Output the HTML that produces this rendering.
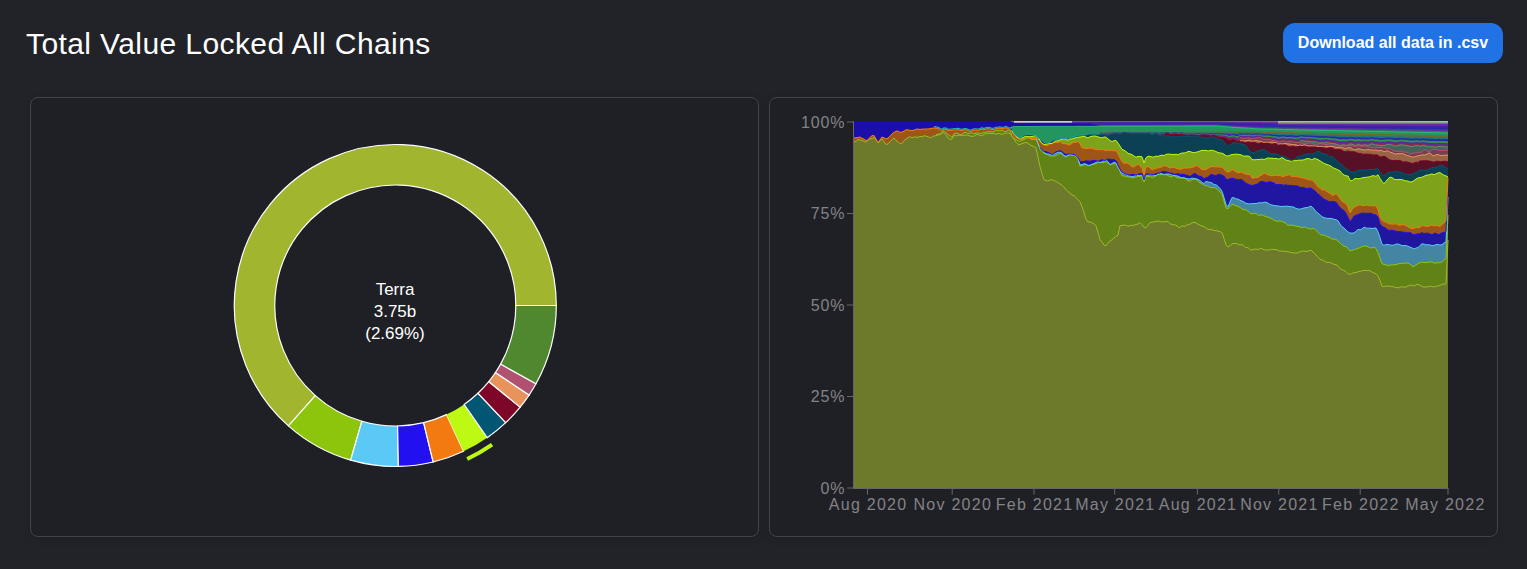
<!DOCTYPE html>
<html><head><meta charset="utf-8"><style>
html,body{margin:0;padding:0;}
body{width:1527px;height:569px;overflow:hidden;background:#222328;font-family:"Liberation Sans",sans-serif;position:relative;}
.title{position:absolute;left:26px;top:27px;font-size:30px;line-height:34px;color:#fff;letter-spacing:0.4px;white-space:nowrap;}
.btn{position:absolute;left:1283px;top:23px;width:220px;height:40px;border-radius:12px;background:#2172e5;color:#fff;font-weight:bold;font-size:16px;line-height:40px;text-align:center;}
.card{position:absolute;top:97px;width:727px;height:438px;border:1px solid #40444f;border-radius:8px;background:#1f2025;box-shadow:0 2px 8px rgba(0,0,0,0.12);}
svg{position:absolute;left:0;top:0;}
</style></head><body>
<div class="title">Total Value Locked All Chains</div>
<div class="btn">Download all data in .csv</div>
<div class="card" style="left:30px"></div>
<div class="card" style="left:769px"></div>
<svg width="1527" height="569" viewBox="0 0 1527 569">
<g><path d="M556.30,305.50A161,161 0 1 0 288.41,425.90L315.30,395.61A120.5,120.5 0 1 1 515.80,305.50Z" fill="#a1b52f" stroke="#fff" stroke-width="1.2"/>
<path d="M288.41,425.90A161,161 0 0 0 350.65,460.19L361.88,421.27A120.5,120.5 0 0 1 315.30,395.61Z" fill="#8dc40c" stroke="#fff" stroke-width="1.2"/>
<path d="M350.65,460.19A161,161 0 0 0 398.39,466.47L397.61,425.98A120.5,120.5 0 0 1 361.88,421.27Z" fill="#5bc9f5" stroke="#fff" stroke-width="1.2"/>
<path d="M398.39,466.47A161,161 0 0 0 433.16,461.99L423.63,422.62A120.5,120.5 0 0 1 397.61,425.98Z" fill="#2210f0" stroke="#fff" stroke-width="1.2"/>
<path d="M433.16,461.99A161,161 0 0 0 463.60,451.30L446.42,414.62A120.5,120.5 0 0 1 423.63,422.62Z" fill="#f27a10" stroke="#fff" stroke-width="1.2"/>
<path d="M463.60,451.30A161,161 0 0 0 487.18,437.71L464.07,404.45A120.5,120.5 0 0 1 446.42,414.62Z" fill="#bdf913"/>
<path d="M468.05,460.81A171.5,171.5 0 0 0 493.18,446.33L490.89,443.04A167.5,167.5 0 0 1 466.35,457.18Z" fill="#bdf913"/>
<path d="M487.18,437.71A161,161 0 0 0 505.72,422.67L477.94,393.20A120.5,120.5 0 0 1 464.07,404.45Z" fill="#005673" stroke="#fff" stroke-width="1.2"/>
<path d="M505.72,422.67A161,161 0 0 0 520.15,407.15L488.75,381.58A120.5,120.5 0 0 1 477.94,393.20Z" fill="#7e0628" stroke="#fff" stroke-width="1.2"/>
<path d="M520.15,407.15A161,161 0 0 0 529.09,395.06L495.43,372.53A120.5,120.5 0 0 1 488.75,381.58Z" fill="#e8925c" stroke="#fff" stroke-width="1.2"/>
<path d="M529.09,395.06A161,161 0 0 0 535.98,383.80L500.59,364.10A120.5,120.5 0 0 1 495.43,372.53Z" fill="#b0526f" stroke="#fff" stroke-width="1.2"/>
<path d="M535.98,383.80A161,161 0 0 0 556.30,305.50L515.80,305.50A120.5,120.5 0 0 1 500.59,364.10Z" fill="#50882f" stroke="#fff" stroke-width="1.2"/></g>
<g fill="#fff" font-size="17" text-anchor="middle" font-family="Liberation Sans, sans-serif">
<text x="395" y="295">Terra</text>
<text x="395" y="316.8">3.75b</text>
<text x="395" y="338.9">(2.69%)</text>
</g>
<g><polygon points="854,121 856,121 858,121 860,121 862,121 864,121 866,121 868,121 870,121 872,121 874,121 876,121 878,121 880,121 882,121 884,121 886,121 888,121 890,121 892,121 894,121 896,121 898,121 900,121 902,121 904,121 906,121 908,121 910,121 912,121 914,121 916,121 918,121 920,121 922,121 924,121 926,121 928,121 930,121 932,121 934,121 936,121 938,121 940,121 942,121 944,121 946,121 948,121 950,121 952,121 954,121 956,121 958,121 960,121 962,121 964,121 966,121 968,121 970,121 972,121 974,121 976,121 978,121 980,121 982,121 984,121 986,121 988,121 990,121 992,121 994,121 996,121 998,121 1000,121 1002,121 1004,121 1006,121 1008,121 1010,121 1012,121 1014,121 1016,121 1018,121 1020,121 1022,121 1024,121 1026,121 1028,121 1030,121 1032,121 1034,121 1036,121 1038,121 1040,121 1042,121 1044,121 1046,121 1048,121 1050,121 1052,121 1054,121 1056,121 1058,121 1060,121 1062,121 1064,121 1066,121 1068,121 1070,121 1072,121 1074,121 1076,121 1078,121 1080,121 1082,121 1084,121 1086,121 1088,121 1090,121 1092,121 1094,121 1096,121 1098,121 1100,121 1102,121 1104,121 1106,121 1108,121 1110,121 1112,121 1114,121 1116,121 1118,121 1120,121 1122,121 1124,121 1126,121 1128,121 1130,121 1132,121 1134,121 1136,121 1138,121 1140,121 1142,121 1144,121 1146,121 1148,121 1150,121 1152,121 1154,121 1156,121 1158,121 1160,121 1162,121 1164,121 1166,121 1168,121 1170,121 1172,121 1174,121 1176,121 1178,121 1180,121 1182,121 1184,121 1186,121 1188,121 1190,121 1192,121 1194,121 1196,121 1198,121 1200,121 1202,121 1204,121 1206,121 1208,121 1210,121 1212,121 1214,121 1216,121 1218,121 1220,121 1222,121 1224,121 1226,121 1228,121 1230,121 1232,121 1234,121 1236,121 1238,121 1240,121 1242,121 1244,121 1246,121 1248,121 1250,121 1252,121 1254,121 1256,121 1258,121 1260,121 1262,121 1264,121 1266,121 1268,121 1270,121 1272,121 1274,121 1276,121 1278,121 1280,121 1282,121 1284,121 1286,121 1288,121 1290,121 1292,121 1294,121 1296,121 1298,121 1300,121 1302,121 1304,121 1306,121 1308,121 1310,121 1312,121 1314,121 1316,121 1318,121 1320,121 1322,121 1324,121 1326,121 1328,121 1330,121 1332,121 1334,121 1336,121 1338,121 1340,121 1342,121 1344,121 1346,121 1348,121 1350,121 1352,121 1354,121 1356,121 1358,121 1360,121 1362,121 1364,121 1366,121 1368,121 1370,121 1372,121 1374,121 1376,121 1378,121 1380,121 1382,121 1384,121 1386,121 1388,121 1390,121 1392,121 1394,121 1396,121 1398,121 1400,121 1402,121 1404,121 1406,121 1408,121 1410,121 1412,121 1414,121 1416,121 1418,121 1420,121 1422,121 1424,121 1426,121 1428,121 1430,121 1432,121 1434,121 1436,121 1438,121 1440,121 1442,121 1444,121 1446,121 1448,121 1448,488 854,488" fill="#7b724d"/>
<polygon points="854,123.4 856,123.4 858,123.4 860,123.3 862,123.5 864,123.6 866,123.8 868,123.7 870,123.3 872,123.1 874,123.1 876,123.6 878,124.1 880,123.7 882,123.3 884,123.4 886,123.6 888,123.4 890,123.2 892,122.8 894,122.6 896,122.5 898,122.4 900,122.6 902,122.6 904,122.5 906,122.3 908,122.3 910,122.3 912,122.4 914,122.3 916,122.2 918,122.1 920,122.2 922,122.2 924,122.2 926,122.1 928,122.1 930,122.1 932,122 934,122 936,122 938,122 940,122.2 942,122.3 944,122.2 946,122.2 948,122.4 950,122.3 952,122.3 954,122.3 956,122.3 958,122.2 960,122.3 962,122.4 964,122.3 966,122.3 968,122.4 970,122.5 972,122.4 974,122.3 976,122.3 978,122.3 980,122.2 982,122.1 984,122.2 986,122.1 988,122.1 990,122.1 992,122.2 994,122.2 996,122.1 998,122.1 1000,122 1002,122.1 1004,122 1006,121.9 1008,122.1 1010,122.2 1012,121.9 1014,121.8 1016,121.8 1018,121.8 1020,121.8 1022,121.8 1024,121.8 1026,121.8 1028,121.8 1030,121.8 1032,121.8 1034,121.8 1036,121.8 1038,121.8 1040,121.8 1042,121.8 1044,121.8 1046,121.8 1048,121.8 1050,121.8 1052,121.8 1054,121.8 1056,121.8 1058,121.8 1060,121.8 1062,121.8 1064,121.8 1066,121.8 1068,121.8 1070,121.8 1072,121.8 1074,121.8 1076,121.8 1078,121.8 1080,121.8 1082,121.8 1084,121.8 1086,121.8 1088,121.8 1090,121.8 1092,121.8 1094,121.8 1096,121.8 1098,121.8 1100,121.8 1102,121.8 1104,121.8 1106,121.8 1108,121.8 1110,121.8 1112,121.8 1114,121.8 1116,121.7 1118,121.7 1120,121.7 1122,121.7 1124,121.7 1126,121.7 1128,121.7 1130,121.7 1132,121.7 1134,121.7 1136,121.7 1138,121.7 1140,121.7 1142,121.7 1144,121.7 1146,121.7 1148,121.7 1150,121.7 1152,121.7 1154,121.7 1156,121.7 1158,121.7 1160,121.7 1162,121.7 1164,121.7 1166,121.7 1168,121.7 1170,121.7 1172,121.7 1174,121.7 1176,121.7 1178,121.7 1180,121.7 1182,121.7 1184,121.7 1186,121.7 1188,121.7 1190,121.7 1192,121.7 1194,121.7 1196,121.7 1198,121.7 1200,121.7 1202,121.7 1204,121.7 1206,121.7 1208,121.7 1210,121.7 1212,121.7 1214,121.7 1216,121.7 1218,121.7 1220,121.8 1222,121.8 1224,121.8 1226,121.8 1228,121.8 1230,121.9 1232,121.9 1234,121.9 1236,121.9 1238,122 1240,122 1242,122 1244,122 1246,122 1248,122 1250,122.1 1252,122.1 1254,122.1 1256,122.1 1258,122.1 1260,122.1 1262,122.1 1264,122.2 1266,122.2 1268,122.2 1270,122.2 1272,122.2 1274,122.2 1276,122.2 1278,122.2 1280,122.2 1282,122.2 1284,122.2 1286,122.2 1288,122.2 1290,122.2 1292,122.2 1294,122.2 1296,122.3 1298,122.3 1300,122.3 1302,122.3 1304,122.3 1306,122.3 1308,122.3 1310,122.3 1312,122.3 1314,122.3 1316,122.3 1318,122.3 1320,122.3 1322,122.3 1324,122.3 1326,122.3 1328,122.3 1330,122.4 1332,122.4 1334,122.4 1336,122.4 1338,122.4 1340,122.4 1342,122.4 1344,122.4 1346,122.4 1348,122.4 1350,122.4 1352,122.4 1354,122.4 1356,122.4 1358,122.4 1360,122.4 1362,122.5 1364,122.5 1366,122.5 1368,122.5 1370,122.5 1372,122.5 1374,122.5 1376,122.5 1378,122.5 1380,122.5 1382,122.5 1384,122.5 1386,122.5 1388,122.5 1390,122.5 1392,122.5 1394,122.6 1396,122.6 1398,122.6 1400,122.6 1402,122.6 1404,122.6 1406,122.6 1408,122.6 1410,122.6 1412,122.6 1414,122.6 1416,122.6 1418,122.6 1420,122.6 1422,122.6 1424,122.6 1426,122.6 1428,122.7 1430,122.7 1432,122.7 1434,122.7 1436,122.7 1438,122.7 1440,122.7 1442,122.7 1444,122.7 1446,122.7 1448,122.7 1448,488 854,488" fill="#692aa8"/>
<polygon points="854,125.9 856,125.8 858,125.7 860,125.6 862,126 864,126.2 866,126.6 868,126.4 870,125.7 872,125.2 874,125.1 876,126.2 878,127.1 880,126.3 882,125.6 884,125.8 886,126.1 888,125.9 890,125.3 892,124.7 894,124.3 896,123.9 898,123.9 900,124.3 902,124.1 904,123.9 906,123.5 908,123.5 910,123.7 912,123.7 914,123.6 916,123.3 918,123.3 920,123.4 922,123.3 924,123.3 926,123.3 928,123.3 930,123.2 932,123.1 934,123 936,123.1 938,123.1 940,123.5 942,123.7 944,123.3 946,123.4 948,123.7 950,123.7 952,123.6 954,123.5 956,123.5 958,123.5 960,123.6 962,123.8 964,123.5 966,123.5 968,123.7 970,124 972,123.8 974,123.6 976,123.6 978,123.7 980,123.5 982,123.3 984,123.5 986,123.3 988,123.2 990,123.2 992,123.4 994,123.4 996,123.2 998,123.1 1000,123 1002,123.2 1004,123.1 1006,122.9 1008,123.2 1010,123.4 1012,122.7 1014,122.6 1016,122.6 1018,122.6 1020,122.6 1022,122.6 1024,122.6 1026,122.6 1028,122.6 1030,122.6 1032,122.6 1034,122.6 1036,122.6 1038,122.6 1040,122.6 1042,122.6 1044,122.6 1046,122.5 1048,122.5 1050,122.5 1052,122.5 1054,122.5 1056,122.5 1058,122.5 1060,122.5 1062,122.5 1064,122.5 1066,122.5 1068,122.5 1070,122.5 1072,122.5 1074,122.5 1076,122.5 1078,122.5 1080,122.5 1082,122.5 1084,122.5 1086,122.5 1088,122.5 1090,122.5 1092,122.5 1094,122.5 1096,122.5 1098,122.5 1100,122.5 1102,122.5 1104,122.5 1106,122.5 1108,122.5 1110,122.5 1112,122.5 1114,122.5 1116,122.5 1118,122.5 1120,122.5 1122,122.5 1124,122.5 1126,122.5 1128,122.5 1130,122.5 1132,122.5 1134,122.5 1136,122.5 1138,122.5 1140,122.5 1142,122.5 1144,122.5 1146,122.5 1148,122.5 1150,122.5 1152,122.5 1154,122.5 1156,122.5 1158,122.5 1160,122.5 1162,122.5 1164,122.5 1166,122.5 1168,122.5 1170,122.5 1172,122.5 1174,122.5 1176,122.5 1178,122.5 1180,122.5 1182,122.5 1184,122.5 1186,122.4 1188,122.4 1190,122.4 1192,122.4 1194,122.4 1196,122.4 1198,122.4 1200,122.4 1202,122.4 1204,122.4 1206,122.4 1208,122.4 1210,122.4 1212,122.4 1214,122.4 1216,122.4 1218,122.5 1220,122.5 1222,122.6 1224,122.6 1226,122.7 1228,122.7 1230,122.7 1232,122.8 1234,122.8 1236,122.9 1238,122.9 1240,122.9 1242,123 1244,123 1246,123 1248,123.1 1250,123.1 1252,123.1 1254,123.2 1256,123.2 1258,123.3 1260,123.3 1262,123.3 1264,123.3 1266,123.3 1268,123.3 1270,123.3 1272,123.4 1274,123.4 1276,123.4 1278,123.4 1280,123.4 1282,123.4 1284,123.4 1286,123.4 1288,123.5 1290,123.5 1292,123.5 1294,123.5 1296,123.5 1298,123.5 1300,123.5 1302,123.5 1304,123.6 1306,123.6 1308,123.6 1310,123.6 1312,123.6 1314,123.6 1316,123.6 1318,123.6 1320,123.7 1322,123.7 1324,123.7 1326,123.7 1328,123.7 1330,123.7 1332,123.7 1334,123.7 1336,123.7 1338,123.8 1340,123.8 1342,123.8 1344,123.8 1346,123.8 1348,123.8 1350,123.8 1352,123.8 1354,123.9 1356,123.9 1358,123.9 1360,123.9 1362,123.9 1364,123.9 1366,123.9 1368,123.9 1370,124 1372,124 1374,124 1376,124 1378,124 1380,124 1382,124 1384,124 1386,124.1 1388,124.1 1390,124.1 1392,124.1 1394,124.1 1396,124.1 1398,124.1 1400,124.1 1402,124.1 1404,124.2 1406,124.2 1408,124.2 1410,124.2 1412,124.2 1414,124.2 1416,124.2 1418,124.2 1420,124.3 1422,124.3 1424,124.3 1426,124.3 1428,124.3 1430,124.3 1432,124.3 1434,124.3 1436,124.4 1438,124.4 1440,124.4 1442,124.4 1444,124.4 1446,124.4 1448,124.4 1448,488 854,488" fill="#292aa8"/>
<polygon points="854,128.3 856,128.2 858,128.1 860,127.9 862,128.4 864,128.8 866,129.4 868,129.1 870,128 872,127.3 874,127.2 876,128.8 878,130.2 880,129 882,127.9 884,128.2 886,128.7 888,128.3 890,127.5 892,126.5 894,125.9 896,125.4 898,125.3 900,125.9 902,125.7 904,125.4 906,124.8 908,124.8 910,125 912,125.1 914,125 916,124.5 918,124.4 920,124.6 922,124.5 924,124.5 926,124.4 928,124.4 930,124.3 932,124.1 934,124 936,124.1 938,124.1 940,124.7 942,125 944,124.5 946,124.5 948,125.1 950,125 952,125 954,124.8 956,124.8 958,124.7 960,124.9 962,125.2 964,124.8 966,124.8 968,125.1 970,125.5 972,125.2 974,124.9 976,124.9 978,125 980,124.7 982,124.4 984,124.7 986,124.4 988,124.3 990,124.4 992,124.7 994,124.6 996,124.3 998,124.2 1000,124 1002,124.3 1004,124.1 1006,123.8 1008,124.3 1010,124.6 1012,123.6 1014,123.4 1016,123.4 1018,123.4 1020,123.4 1022,123.3 1024,123.3 1026,123.3 1028,123.3 1030,123.3 1032,123.3 1034,123.3 1036,123.3 1038,123.3 1040,123.3 1042,123.3 1044,123.3 1046,123.3 1048,123.3 1050,123.3 1052,123.3 1054,123.3 1056,123.3 1058,123.3 1060,123.3 1062,123.3 1064,123.3 1066,123.3 1068,123.3 1070,123.3 1072,123.3 1074,123.3 1076,123.3 1078,123.3 1080,123.3 1082,123.3 1084,123.3 1086,123.3 1088,123.3 1090,123.3 1092,123.3 1094,123.3 1096,123.3 1098,123.3 1100,123.3 1102,123.3 1104,123.3 1106,123.3 1108,123.3 1110,123.3 1112,123.3 1114,123.3 1116,123.2 1118,123.2 1120,123.2 1122,123.2 1124,123.2 1126,123.2 1128,123.2 1130,123.2 1132,123.2 1134,123.2 1136,123.2 1138,123.2 1140,123.2 1142,123.2 1144,123.2 1146,123.2 1148,123.2 1150,123.2 1152,123.2 1154,123.2 1156,123.2 1158,123.2 1160,123.2 1162,123.2 1164,123.2 1166,123.2 1168,123.2 1170,123.2 1172,123.2 1174,123.2 1176,123.2 1178,123.2 1180,123.2 1182,123.2 1184,123.2 1186,123.2 1188,123.2 1190,123.2 1192,123.2 1194,123.2 1196,123.2 1198,123.2 1200,123.2 1202,123.2 1204,123.2 1206,123.2 1208,123.2 1210,123.1 1212,123.1 1214,123.1 1216,123.1 1218,123.2 1220,123.3 1222,123.3 1224,123.4 1226,123.5 1228,123.5 1230,123.6 1232,123.7 1234,123.8 1236,123.8 1238,123.9 1240,123.9 1242,124 1244,124 1246,124.1 1248,124.1 1250,124.2 1252,124.2 1254,124.3 1256,124.3 1258,124.4 1260,124.4 1262,124.4 1264,124.5 1266,124.5 1268,124.5 1270,124.5 1272,124.5 1274,124.6 1276,124.6 1278,124.6 1280,124.6 1282,124.6 1284,124.6 1286,124.7 1288,124.7 1290,124.7 1292,124.7 1294,124.7 1296,124.8 1298,124.8 1300,124.8 1302,124.8 1304,124.8 1306,124.8 1308,124.9 1310,124.9 1312,124.9 1314,124.9 1316,124.9 1318,125 1320,125 1322,125 1324,125 1326,125 1328,125 1330,125.1 1332,125.1 1334,125.1 1336,125.1 1338,125.1 1340,125.2 1342,125.2 1344,125.2 1346,125.2 1348,125.2 1350,125.2 1352,125.3 1354,125.3 1356,125.3 1358,125.3 1360,125.3 1362,125.4 1364,125.4 1366,125.4 1368,125.4 1370,125.4 1372,125.4 1374,125.5 1376,125.5 1378,125.5 1380,125.5 1382,125.5 1384,125.6 1386,125.6 1388,125.6 1390,125.6 1392,125.6 1394,125.7 1396,125.7 1398,125.7 1400,125.7 1402,125.7 1404,125.7 1406,125.8 1408,125.8 1410,125.8 1412,125.8 1414,125.8 1416,125.9 1418,125.9 1420,125.9 1422,125.9 1424,125.9 1426,125.9 1428,126 1430,126 1432,126 1434,126 1436,126 1438,126.1 1440,126.1 1442,126.1 1444,126.1 1446,126.1 1448,126.1 1448,488 854,488" fill="#4220a8"/>
<polygon points="854,130.8 856,130.6 858,130.5 860,130.1 862,130.9 864,131.3 866,132.2 868,131.8 870,130.3 872,129.4 874,129.3 876,131.4 878,133.2 880,131.7 882,130.1 884,130.6 886,131.3 888,130.7 890,129.7 892,128.3 894,127.6 896,126.8 898,126.7 900,127.5 902,127.3 904,126.8 906,126 908,126.1 910,126.3 912,126.5 914,126.3 916,125.7 918,125.5 920,125.8 922,125.6 924,125.7 926,125.5 928,125.6 930,125.5 932,125.2 934,124.9 936,125.1 938,125.2 940,126 942,126.3 944,125.7 946,125.7 948,126.4 950,126.4 952,126.3 954,126.1 956,126.1 958,125.9 960,126.2 962,126.5 964,126 966,126 968,126.4 970,127 972,126.5 974,126.1 976,126.2 978,126.3 980,126 982,125.6 984,126 986,125.5 988,125.3 990,125.5 992,125.9 994,125.8 996,125.3 998,125.2 1000,125 1002,125.4 1004,125.2 1006,124.8 1008,125.4 1010,125.8 1012,124.4 1014,124.1 1016,124.1 1018,124.1 1020,124.1 1022,124.1 1024,124.1 1026,124.1 1028,124.1 1030,124.1 1032,124.1 1034,124.1 1036,124.1 1038,124.1 1040,124.1 1042,124.1 1044,124.1 1046,124.1 1048,124.1 1050,124.1 1052,124.1 1054,124.1 1056,124.1 1058,124.1 1060,124.1 1062,124.1 1064,124.1 1066,124.1 1068,124.1 1070,124.1 1072,124.1 1074,124.1 1076,124.1 1078,124.1 1080,124 1082,124 1084,124 1086,124 1088,124 1090,124 1092,124 1094,124 1096,124 1098,124 1100,124 1102,124 1104,124 1106,124 1108,124 1110,124 1112,124 1114,124 1116,124 1118,124 1120,124 1122,124 1124,124 1126,124 1128,124 1130,124 1132,124 1134,124 1136,124 1138,124 1140,124 1142,124 1144,124 1146,124 1148,124 1150,124 1152,123.9 1154,123.9 1156,123.9 1158,123.9 1160,123.9 1162,123.9 1164,123.9 1166,123.9 1168,123.9 1170,123.9 1172,123.9 1174,123.9 1176,123.9 1178,123.9 1180,123.9 1182,123.9 1184,123.9 1186,123.9 1188,123.9 1190,123.9 1192,123.9 1194,123.9 1196,123.9 1198,123.9 1200,123.9 1202,123.9 1204,123.9 1206,123.9 1208,123.9 1210,123.9 1212,123.9 1214,123.9 1216,123.9 1218,123.9 1220,124 1222,124.1 1224,124.2 1226,124.3 1228,124.4 1230,124.5 1232,124.6 1234,124.7 1236,124.7 1238,124.8 1240,124.9 1242,125 1244,125 1246,125.1 1248,125.2 1250,125.2 1252,125.3 1254,125.4 1256,125.4 1258,125.5 1260,125.6 1262,125.6 1264,125.6 1266,125.6 1268,125.7 1270,125.7 1272,125.7 1274,125.7 1276,125.8 1278,125.8 1280,125.8 1282,125.8 1284,125.9 1286,125.9 1288,125.9 1290,125.9 1292,126 1294,126 1296,126 1298,126 1300,126.1 1302,126.1 1304,126.1 1306,126.1 1308,126.2 1310,126.2 1312,126.2 1314,126.2 1316,126.3 1318,126.3 1320,126.3 1322,126.3 1324,126.3 1326,126.4 1328,126.4 1330,126.4 1332,126.4 1334,126.5 1336,126.5 1338,126.5 1340,126.5 1342,126.6 1344,126.6 1346,126.6 1348,126.6 1350,126.7 1352,126.7 1354,126.7 1356,126.7 1358,126.8 1360,126.8 1362,126.8 1364,126.8 1366,126.9 1368,126.9 1370,126.9 1372,126.9 1374,127 1376,127 1378,127 1380,127 1382,127.1 1384,127.1 1386,127.1 1388,127.1 1390,127.2 1392,127.2 1394,127.2 1396,127.2 1398,127.2 1400,127.3 1402,127.3 1404,127.3 1406,127.3 1408,127.4 1410,127.4 1412,127.4 1414,127.4 1416,127.5 1418,127.5 1420,127.5 1422,127.5 1424,127.6 1426,127.6 1428,127.6 1430,127.6 1432,127.7 1434,127.7 1436,127.7 1438,127.7 1440,127.8 1442,127.8 1444,127.8 1446,127.8 1448,127.9 1448,488 854,488" fill="#292aa8"/>
<polygon points="854,133.2 856,133 858,132.8 860,132.4 862,133.4 864,133.9 866,135 868,134.5 870,132.7 872,131.5 874,131.4 876,134 878,136.3 880,134.4 882,132.4 884,133 886,133.9 888,133.1 890,131.9 892,130.2 894,129.2 896,128.3 898,128.1 900,129.2 902,128.8 904,128.3 906,127.3 908,127.3 910,127.7 912,127.8 914,127.6 916,126.8 918,126.7 920,127 922,126.8 924,126.8 926,126.7 928,126.7 930,126.6 932,126.2 934,125.9 936,126.2 938,126.2 940,127.2 942,127.6 944,126.9 946,126.9 948,127.8 950,127.7 952,127.6 954,127.4 956,127.4 958,127.1 960,127.4 962,127.9 964,127.3 966,127.3 968,127.8 970,128.5 972,127.9 974,127.4 976,127.5 978,127.7 980,127.2 982,126.7 984,127.2 986,126.6 988,126.4 990,126.6 992,127.1 994,127 996,126.4 998,126.3 1000,126.1 1002,126.6 1004,126.2 1006,125.7 1008,126.5 1010,127 1012,125.3 1014,124.9 1016,124.9 1018,124.9 1020,124.9 1022,124.9 1024,124.9 1026,124.9 1028,124.9 1030,124.9 1032,124.9 1034,124.9 1036,124.9 1038,124.9 1040,124.9 1042,124.9 1044,124.9 1046,124.9 1048,124.9 1050,124.9 1052,124.9 1054,124.9 1056,124.9 1058,124.9 1060,124.8 1062,124.8 1064,124.8 1066,124.8 1068,124.8 1070,124.8 1072,124.8 1074,124.8 1076,124.8 1078,124.8 1080,124.8 1082,124.8 1084,124.8 1086,124.8 1088,124.8 1090,124.8 1092,124.8 1094,124.8 1096,124.8 1098,124.8 1100,124.8 1102,124.8 1104,124.8 1106,124.8 1108,124.8 1110,124.8 1112,124.8 1114,124.8 1116,124.7 1118,124.7 1120,124.7 1122,124.7 1124,124.7 1126,124.7 1128,124.7 1130,124.7 1132,124.7 1134,124.7 1136,124.7 1138,124.7 1140,124.7 1142,124.7 1144,124.7 1146,124.7 1148,124.7 1150,124.7 1152,124.7 1154,124.7 1156,124.7 1158,124.7 1160,124.7 1162,124.7 1164,124.7 1166,124.7 1168,124.7 1170,124.7 1172,124.6 1174,124.6 1176,124.6 1178,124.6 1180,124.6 1182,124.6 1184,124.6 1186,124.6 1188,124.6 1190,124.6 1192,124.6 1194,124.6 1196,124.6 1198,124.6 1200,124.6 1202,124.6 1204,124.6 1206,124.6 1208,124.6 1210,124.6 1212,124.6 1214,124.6 1216,124.6 1218,124.7 1220,124.8 1222,124.9 1224,125 1226,125.1 1228,125.2 1230,125.4 1232,125.5 1234,125.6 1236,125.7 1238,125.8 1240,125.9 1242,125.9 1244,126 1246,126.1 1248,126.2 1250,126.3 1252,126.4 1254,126.5 1256,126.5 1258,126.6 1260,126.7 1262,126.7 1264,126.8 1266,126.8 1268,126.8 1270,126.9 1272,126.9 1274,126.9 1276,127 1278,127 1280,127 1282,127 1284,127.1 1286,127.1 1288,127.1 1290,127.2 1292,127.2 1294,127.2 1296,127.3 1298,127.3 1300,127.3 1302,127.4 1304,127.4 1306,127.4 1308,127.4 1310,127.5 1312,127.5 1314,127.5 1316,127.6 1318,127.6 1320,127.6 1322,127.7 1324,127.7 1326,127.7 1328,127.7 1330,127.8 1332,127.8 1334,127.8 1336,127.9 1338,127.9 1340,127.9 1342,128 1344,128 1346,128 1348,128.1 1350,128.1 1352,128.1 1354,128.1 1356,128.2 1358,128.2 1360,128.2 1362,128.3 1364,128.3 1366,128.3 1368,128.4 1370,128.4 1372,128.4 1374,128.4 1376,128.5 1378,128.5 1380,128.5 1382,128.6 1384,128.6 1386,128.6 1388,128.7 1390,128.7 1392,128.7 1394,128.8 1396,128.8 1398,128.8 1400,128.8 1402,128.9 1404,128.9 1406,128.9 1408,129 1410,129 1412,129 1414,129.1 1416,129.1 1418,129.1 1420,129.1 1422,129.2 1424,129.2 1426,129.2 1428,129.3 1430,129.3 1432,129.3 1434,129.4 1436,129.4 1438,129.4 1440,129.4 1442,129.5 1444,129.5 1446,129.5 1448,129.6 1448,488 854,488" fill="#692aa8"/>
<polygon points="854,135.7 856,135.4 858,135.2 860,134.7 862,135.9 864,136.5 866,137.8 868,137.2 870,135 872,133.6 874,133.4 876,136.6 878,139.3 880,137 882,134.7 884,135.4 886,136.4 888,135.6 890,134 892,132 894,130.9 896,129.7 898,129.6 900,130.8 902,130.4 904,129.7 906,128.5 908,128.6 910,129 912,129.2 914,128.9 916,128 918,127.8 920,128.2 922,128 924,128 926,127.8 928,127.9 930,127.7 932,127.3 934,126.9 936,127.2 938,127.3 940,128.5 942,129 944,128 946,128.1 948,129.1 950,129 952,128.9 954,128.6 956,128.6 958,128.4 960,128.7 962,129.3 964,128.5 966,128.6 968,129.2 970,130 972,129.3 974,128.7 976,128.8 978,129 980,128.5 982,127.8 984,128.5 986,127.8 988,127.5 990,127.7 992,128.3 994,128.2 996,127.5 998,127.4 1000,127.1 1002,127.7 1004,127.3 1006,126.6 1008,127.6 1010,128.2 1012,126.1 1014,125.7 1016,125.7 1018,125.7 1020,125.7 1022,125.7 1024,125.7 1026,125.7 1028,125.7 1030,125.7 1032,125.7 1034,125.7 1036,125.7 1038,125.7 1040,125.7 1042,125.7 1044,125.7 1046,125.6 1048,125.6 1050,125.6 1052,125.6 1054,125.6 1056,125.6 1058,125.6 1060,125.6 1062,125.6 1064,125.6 1066,125.6 1068,125.6 1070,125.6 1072,125.6 1074,125.6 1076,125.6 1078,125.6 1080,125.6 1082,125.6 1084,125.6 1086,125.6 1088,125.6 1090,125.6 1092,125.5 1094,125.5 1096,125.5 1098,125.5 1100,125.5 1102,125.5 1104,125.5 1106,125.5 1108,125.5 1110,125.5 1112,125.5 1114,125.5 1116,125.5 1118,125.5 1120,125.5 1122,125.5 1124,125.5 1126,125.5 1128,125.5 1130,125.5 1132,125.5 1134,125.5 1136,125.5 1138,125.5 1140,125.4 1142,125.4 1144,125.4 1146,125.4 1148,125.4 1150,125.4 1152,125.4 1154,125.4 1156,125.4 1158,125.4 1160,125.4 1162,125.4 1164,125.4 1166,125.4 1168,125.4 1170,125.4 1172,125.4 1174,125.4 1176,125.4 1178,125.4 1180,125.4 1182,125.4 1184,125.4 1186,125.3 1188,125.3 1190,125.3 1192,125.3 1194,125.3 1196,125.3 1198,125.3 1200,125.3 1202,125.3 1204,125.3 1206,125.3 1208,125.3 1210,125.3 1212,125.3 1214,125.3 1216,125.3 1218,125.4 1220,125.6 1222,125.7 1224,125.8 1226,126 1228,126.1 1230,126.2 1232,126.4 1234,126.5 1236,126.6 1238,126.7 1240,126.8 1242,126.9 1244,127 1246,127.1 1248,127.2 1250,127.3 1252,127.4 1254,127.5 1256,127.7 1258,127.8 1260,127.9 1262,127.9 1264,127.9 1266,128 1268,128 1270,128 1272,128.1 1274,128.1 1276,128.1 1278,128.2 1280,128.2 1282,128.3 1284,128.3 1286,128.3 1288,128.4 1290,128.4 1292,128.4 1294,128.5 1296,128.5 1298,128.6 1300,128.6 1302,128.6 1304,128.7 1306,128.7 1308,128.7 1310,128.8 1312,128.8 1314,128.8 1316,128.9 1318,128.9 1320,129 1322,129 1324,129 1326,129.1 1328,129.1 1330,129.1 1332,129.2 1334,129.2 1336,129.2 1338,129.3 1340,129.3 1342,129.4 1344,129.4 1346,129.4 1348,129.5 1350,129.5 1352,129.5 1354,129.6 1356,129.6 1358,129.6 1360,129.7 1362,129.7 1364,129.8 1366,129.8 1368,129.8 1370,129.9 1372,129.9 1374,129.9 1376,130 1378,130 1380,130 1382,130.1 1384,130.1 1386,130.2 1388,130.2 1390,130.2 1392,130.3 1394,130.3 1396,130.3 1398,130.4 1400,130.4 1402,130.4 1404,130.5 1406,130.5 1408,130.6 1410,130.6 1412,130.6 1414,130.7 1416,130.7 1418,130.7 1420,130.8 1422,130.8 1424,130.8 1426,130.9 1428,130.9 1430,131 1432,131 1434,131 1436,131.1 1438,131.1 1440,131.1 1442,131.2 1444,131.2 1446,131.2 1448,131.3 1448,488 854,488" fill="#298052"/>
<polygon points="854,121 856,121 858,121 860,121 862,121 864,121 866,121 868,121 870,121 872,121 874,121 876,121 878,121 880,121 882,121 884,121 886,121 888,121 890,121 892,121 894,121 896,121 898,121 900,121 902,121 904,121 906,121 908,121 910,121 912,121 914,121 916,121 918,121 920,121 922,121 924,121 926,121 928,121 930,121 932,121 934,121 936,121 938,121 940,121 942,121 944,121 946,121 948,121 950,121 952,121 954,121 956,121 958,121 960,121 962,121 964,121 966,121 968,121 970,121 972,121 974,121 976,121 978,121 980,121 982,121 984,121 986,121 988,121 990,121 992,121 994,121 996,121 998,121 1000,121 1002,121 1004,121 1006,121 1008,121 1010,121 1012,122 1014,123 1016,123 1018,123 1020,123 1022,123.1 1024,123.1 1026,123.1 1028,123.1 1030,123.1 1032,123.1 1034,123.1 1036,123.1 1038,123.2 1040,123.2 1042,123.2 1044,123.2 1046,123.2 1048,123.2 1050,123.2 1052,123.3 1054,123.3 1056,123.3 1058,123.3 1060,123.3 1062,123.3 1064,123.3 1066,123.3 1068,123.4 1070,123.4 1072,123.4 1074,123.4 1076,123.4 1078,123.4 1080,123.4 1082,123.4 1084,123.5 1086,123.5 1088,123.5 1090,123.5 1092,124 1094,124.5 1096,125 1098,125.5 1100,126 1102,126.3 1102,488 854,488" fill="#1c0ea8"/>
<polygon points="1278,121 1280,121 1282,121 1284,121 1286,121 1288,121 1290,121 1292,121 1294,121 1296,121 1298,121 1300,121 1302,121 1304,121 1306,121 1308,121 1310,121 1312,121 1314,121 1316,121 1318,121 1320,121 1322,121 1324,121 1326,121 1328,121 1330,121 1332,121 1334,121 1336,121 1338,121 1340,121 1342,121 1344,121 1346,121 1348,121 1350,121 1352,121 1354,121 1356,121 1358,121 1360,121 1362,121 1364,121 1366,121 1368,121 1370,121 1372,121 1374,121 1376,121 1378,121 1380,121 1382,121 1384,121 1386,121 1388,121 1390,121 1392,121 1394,121 1396,121 1398,121 1400,121 1402,121 1404,121 1406,121 1408,121 1410,121 1412,121 1414,121 1416,121 1418,121 1420,121 1422,121 1424,121 1426,121 1428,121 1430,121 1432,121 1434,121 1436,121 1438,121 1440,121 1442,121 1444,121 1446,121 1448,121 1448,488 1278,488" fill="#93c6b4"/>
<polygon points="1278,122.6 1280,122.6 1282,122.6 1284,122.6 1286,122.6 1288,122.6 1290,122.6 1292,122.6 1294,122.6 1296,122.6 1298,122.6 1300,122.6 1302,122.6 1304,122.6 1306,122.6 1308,122.6 1310,122.6 1312,122.6 1314,122.6 1316,122.6 1318,122.6 1320,122.6 1322,122.6 1324,122.6 1326,122.6 1328,122.6 1330,122.6 1332,122.6 1334,122.6 1336,122.6 1338,122.6 1340,122.6 1342,122.6 1344,122.6 1346,122.6 1348,122.6 1350,122.6 1352,122.6 1354,122.6 1356,122.6 1358,122.6 1360,122.6 1362,122.6 1364,122.6 1366,122.6 1368,122.6 1370,122.6 1372,122.6 1374,122.6 1376,122.6 1378,122.6 1380,122.6 1382,122.6 1384,122.6 1386,122.6 1388,122.6 1390,122.6 1392,122.6 1394,122.6 1396,122.6 1398,122.6 1400,122.6 1402,122.6 1404,122.6 1406,122.6 1408,122.6 1410,122.6 1412,122.6 1414,122.6 1416,122.6 1418,122.6 1420,122.6 1422,122.6 1424,122.6 1426,122.6 1428,122.6 1430,122.6 1432,122.6 1434,122.6 1436,122.6 1438,122.6 1440,122.6 1442,122.6 1444,122.6 1446,122.6 1448,122.6 1448,488 1278,488" fill="#847652"/>
<polygon points="1278,124 1280,124 1282,124 1284,124 1286,124 1288,124 1290,124 1292,124 1294,124 1296,124 1298,124 1300,124 1302,124 1304,124 1306,124 1308,124 1310,124 1312,124 1314,124 1316,124 1318,124 1320,124 1322,124 1324,124 1326,124 1328,124 1330,124 1332,124 1334,124 1336,124 1338,124 1340,124 1342,124 1344,124 1346,124 1348,124 1350,124 1352,124 1354,124 1356,124 1358,124 1360,124 1362,124 1364,124 1366,124 1368,124 1370,124 1372,124 1374,124 1376,124 1378,124 1380,124 1382,124 1384,124 1386,124 1388,124 1390,124 1392,124 1394,124 1396,124 1398,124 1400,124 1402,124 1404,124 1406,124 1408,124 1410,124 1412,124 1414,124 1416,124 1418,124 1420,124 1422,124 1424,124 1426,124 1428,124 1430,124 1432,124 1434,124 1436,124 1438,124 1440,124 1442,124 1444,124 1446,124 1448,124 1448,488 1278,488" fill="#692aa8"/>
<polygon points="1278,125.1 1280,125.1 1282,125.1 1284,125.1 1286,125.1 1288,125.1 1290,125.1 1292,125.1 1294,125.1 1296,125.2 1298,125.2 1300,125.2 1302,125.2 1304,125.2 1306,125.2 1308,125.2 1310,125.2 1312,125.2 1314,125.2 1316,125.2 1318,125.2 1320,125.3 1322,125.3 1324,125.3 1326,125.3 1328,125.3 1330,125.3 1332,125.3 1334,125.3 1336,125.3 1338,125.3 1340,125.3 1342,125.3 1344,125.4 1346,125.4 1348,125.4 1350,125.4 1352,125.4 1354,125.4 1356,125.4 1358,125.4 1360,125.4 1362,125.4 1364,125.4 1366,125.5 1368,125.5 1370,125.5 1372,125.5 1374,125.5 1376,125.5 1378,125.5 1380,125.5 1382,125.5 1384,125.6 1386,125.6 1388,125.6 1390,125.6 1392,125.6 1394,125.7 1396,125.7 1398,125.7 1400,125.7 1402,125.7 1404,125.7 1406,125.8 1408,125.8 1410,125.8 1412,125.8 1414,125.8 1416,125.9 1418,125.9 1420,125.9 1422,125.9 1424,125.9 1426,125.9 1428,126 1430,126 1432,126 1434,126 1436,126 1438,126.1 1440,126.1 1442,126.1 1444,126.1 1446,126.1 1448,126.1 1448,488 1278,488" fill="#4220a8"/>
<polygon points="1278,126.2 1280,126.2 1282,126.2 1284,126.2 1286,126.2 1288,126.2 1290,126.3 1292,126.3 1294,126.3 1296,126.3 1298,126.3 1300,126.3 1302,126.4 1304,126.4 1306,126.4 1308,126.4 1310,126.4 1312,126.4 1314,126.5 1316,126.5 1318,126.5 1320,126.5 1322,126.5 1324,126.5 1326,126.6 1328,126.6 1330,126.6 1332,126.6 1334,126.6 1336,126.6 1338,126.7 1340,126.7 1342,126.7 1344,126.7 1346,126.7 1348,126.7 1350,126.8 1352,126.8 1354,126.8 1356,126.8 1358,126.8 1360,126.9 1362,126.9 1364,126.9 1366,126.9 1368,126.9 1370,126.9 1372,127 1374,127 1376,127 1378,127 1380,127 1382,127.1 1384,127.1 1386,127.1 1388,127.1 1390,127.2 1392,127.2 1394,127.2 1396,127.2 1398,127.2 1400,127.3 1402,127.3 1404,127.3 1406,127.3 1408,127.4 1410,127.4 1412,127.4 1414,127.4 1416,127.5 1418,127.5 1420,127.5 1422,127.5 1424,127.6 1426,127.6 1428,127.6 1430,127.6 1432,127.7 1434,127.7 1436,127.7 1438,127.7 1440,127.8 1442,127.8 1444,127.8 1446,127.8 1448,127.9 1448,488 1278,488" fill="#292aa8"/>
<polygon points="1278,127.2 1280,127.3 1282,127.3 1284,127.3 1286,127.3 1288,127.4 1290,127.4 1292,127.4 1294,127.4 1296,127.5 1298,127.5 1300,127.5 1302,127.5 1304,127.6 1306,127.6 1308,127.6 1310,127.6 1312,127.7 1314,127.7 1316,127.7 1318,127.7 1320,127.8 1322,127.8 1324,127.8 1326,127.8 1328,127.9 1330,127.9 1332,127.9 1334,127.9 1336,128 1338,128 1340,128 1342,128 1344,128.1 1346,128.1 1348,128.1 1350,128.1 1352,128.2 1354,128.2 1356,128.2 1358,128.3 1360,128.3 1362,128.3 1364,128.3 1366,128.4 1368,128.4 1370,128.4 1372,128.4 1374,128.5 1376,128.5 1378,128.5 1380,128.5 1382,128.6 1384,128.6 1386,128.6 1388,128.7 1390,128.7 1392,128.7 1394,128.8 1396,128.8 1398,128.8 1400,128.8 1402,128.9 1404,128.9 1406,128.9 1408,129 1410,129 1412,129 1414,129.1 1416,129.1 1418,129.1 1420,129.1 1422,129.2 1424,129.2 1426,129.2 1428,129.3 1430,129.3 1432,129.3 1434,129.4 1436,129.4 1438,129.4 1440,129.4 1442,129.5 1444,129.5 1446,129.5 1448,129.6 1448,488 1278,488" fill="#692aa8"/>
<polygon points="1278,128.3 1280,128.3 1282,128.4 1284,128.4 1286,128.4 1288,128.5 1290,128.5 1292,128.5 1294,128.6 1296,128.6 1298,128.6 1300,128.7 1302,128.7 1304,128.7 1306,128.8 1308,128.8 1310,128.9 1312,128.9 1314,128.9 1316,129 1318,129 1320,129 1322,129.1 1324,129.1 1326,129.1 1328,129.2 1330,129.2 1332,129.2 1334,129.3 1336,129.3 1338,129.3 1340,129.4 1342,129.4 1344,129.4 1346,129.5 1348,129.5 1350,129.5 1352,129.6 1354,129.6 1356,129.6 1358,129.7 1360,129.7 1362,129.7 1364,129.8 1366,129.8 1368,129.8 1370,129.9 1372,129.9 1374,129.9 1376,130 1378,130 1380,130 1382,130.1 1384,130.1 1386,130.2 1388,130.2 1390,130.2 1392,130.3 1394,130.3 1396,130.3 1398,130.4 1400,130.4 1402,130.4 1404,130.5 1406,130.5 1408,130.6 1410,130.6 1412,130.6 1414,130.7 1416,130.7 1418,130.7 1420,130.8 1422,130.8 1424,130.8 1426,130.9 1428,130.9 1430,131 1432,131 1434,131 1436,131.1 1438,131.1 1440,131.1 1442,131.2 1444,131.2 1446,131.2 1448,131.3 1448,488 1278,488" fill="#298052"/>
<polygon points="1014,121 1016,121 1018,121 1020,121 1022,121 1024,121 1026,121 1028,121 1030,121 1032,121 1034,121 1036,121 1038,121 1040,121 1042,121 1044,121 1046,121 1048,121 1050,121 1052,121 1054,121 1056,121 1058,121 1060,121 1062,121 1064,121 1066,121 1068,121 1070,121 1072,121 1072,488 1014,488" fill="#c3d1cb"/>
<polygon points="1014,122.8 1016,122.8 1018,122.8 1020,122.8 1022,122.8 1024,122.8 1026,122.8 1028,122.8 1030,122.8 1032,122.8 1034,122.8 1036,122.8 1038,122.8 1040,122.8 1042,122.8 1044,122.8 1046,122.8 1048,122.8 1050,122.8 1052,122.8 1054,122.8 1056,122.8 1058,122.8 1060,122.8 1062,122.8 1064,122.8 1066,122.8 1068,122.8 1070,122.8 1072,122.8 1072,488 1014,488" fill="#1c0ea8"/>
<polygon points="1012,127 1014,126.5 1016,126.5 1018,126.5 1020,126.5 1022,126.5 1024,126.5 1026,126.5 1028,126.5 1030,126.5 1032,126.5 1034,126.5 1036,126.4 1038,126.4 1040,126.4 1042,126.4 1044,126.4 1046,126.4 1048,126.4 1050,126.4 1052,126.4 1054,126.4 1056,126.4 1058,126.4 1060,126.4 1062,126.4 1064,126.4 1066,126.4 1068,126.4 1070,126.4 1072,126.4 1074,126.4 1076,126.3 1078,126.3 1080,126.3 1082,126.3 1084,126.3 1086,126.3 1088,126.3 1090,126.3 1092,126.3 1094,126.3 1096,126.3 1098,126.3 1100,126.3 1102,126.3 1104,126.3 1106,126.3 1108,126.3 1110,126.3 1112,126.3 1114,126.3 1116,126.2 1118,126.2 1120,126.2 1122,126.2 1124,126.2 1126,126.2 1128,126.2 1130,126.2 1132,126.2 1134,126.2 1136,126.2 1138,126.2 1140,126.2 1142,126.2 1144,126.2 1146,126.2 1148,126.2 1150,126.2 1152,126.2 1154,126.2 1156,126.1 1158,126.1 1160,126.1 1162,126.1 1164,126.1 1166,126.1 1168,126.1 1170,126.1 1172,126.1 1174,126.1 1176,126.1 1178,126.1 1180,126.1 1182,126.1 1184,126.1 1186,126.1 1188,126.1 1190,126.1 1192,126.1 1194,126.1 1196,126 1198,126 1200,126 1202,126 1204,126 1206,126 1208,126 1210,126 1212,126 1214,126 1216,126 1218,126.2 1220,126.3 1222,126.5 1224,126.6 1226,126.8 1228,126.9 1230,127.1 1232,127.3 1234,127.4 1236,127.6 1238,127.7 1240,127.8 1242,127.9 1244,128 1246,128.2 1248,128.3 1250,128.4 1252,128.5 1254,128.6 1256,128.8 1258,128.9 1260,129 1262,129 1264,129.1 1266,129.1 1268,129.2 1270,129.2 1272,129.3 1274,129.3 1276,129.3 1278,129.4 1280,129.4 1282,129.5 1284,129.5 1286,129.6 1288,129.6 1290,129.6 1292,129.7 1294,129.7 1296,129.8 1298,129.8 1300,129.9 1302,129.9 1304,129.9 1306,130 1308,130 1310,130.1 1312,130.1 1314,130.1 1316,130.2 1318,130.2 1320,130.3 1322,130.3 1324,130.4 1326,130.4 1328,130.4 1330,130.5 1332,130.5 1334,130.6 1336,130.6 1338,130.7 1340,130.7 1342,130.7 1344,130.8 1346,130.8 1348,130.9 1350,130.9 1352,131 1354,131 1356,131 1358,131.1 1360,131.1 1362,131.2 1364,131.2 1366,131.3 1368,131.3 1370,131.3 1372,131.4 1374,131.4 1376,131.5 1378,131.5 1380,131.6 1382,131.6 1384,131.6 1386,131.7 1388,131.7 1390,131.8 1392,131.8 1394,131.9 1396,131.9 1398,131.9 1400,132 1402,132 1404,132.1 1406,132.1 1408,132.1 1410,132.2 1412,132.2 1414,132.3 1416,132.3 1418,132.4 1420,132.4 1422,132.4 1424,132.5 1426,132.5 1428,132.6 1430,132.6 1432,132.7 1434,132.7 1436,132.7 1438,132.8 1440,132.8 1442,132.9 1444,132.9 1446,133 1448,133 1448,488 1012,488" fill="#23965f"/>
<polygon points="1098,134 1100,132 1102,132 1104,132 1106,132 1108,132 1110,132 1112,132 1114,132 1116,132 1118,132 1120,132 1122,132 1124,131.9 1126,132 1128,132 1130,131.9 1132,131.9 1134,131.9 1136,131.9 1138,131.9 1140,131.9 1142,131.9 1144,131.9 1146,131.9 1148,131.9 1150,131.9 1152,131.9 1154,131.9 1156,131.9 1158,131.9 1160,131.9 1162,131.9 1164,131.9 1166,131.9 1168,131.9 1170,131.9 1172,131.9 1174,131.9 1176,131.9 1178,131.9 1180,131.9 1182,131.9 1184,131.9 1186,131.9 1188,131.8 1190,131.8 1192,131.8 1194,131.8 1196,131.8 1198,131.8 1200,131.8 1202,131.8 1204,131.8 1206,131.8 1208,131.8 1210,131.8 1212,131.8 1214,131.8 1216,131.8 1218,131.7 1220,131.6 1222,131.5 1224,131.5 1226,131.4 1228,131.3 1230,131.2 1232,131.1 1234,131 1236,131 1238,131.1 1240,131.1 1242,131.1 1244,131.2 1246,131.2 1248,131.3 1250,131.3 1252,131.3 1254,131.4 1256,131.4 1258,131.5 1260,131.5 1262,131.5 1264,131.6 1266,131.6 1268,131.7 1270,131.7 1272,131.8 1274,131.8 1276,131.8 1278,131.9 1280,131.9 1282,132 1284,132 1286,132.1 1288,132.1 1290,132.1 1292,132.2 1294,132.2 1296,132.3 1298,132.3 1300,132.4 1302,132.4 1304,132.4 1306,132.5 1308,132.5 1310,132.6 1312,132.6 1314,132.6 1316,132.7 1318,132.7 1320,132.8 1322,132.8 1324,132.9 1326,132.9 1328,132.9 1330,133 1332,133 1334,133.1 1336,133.1 1338,133.2 1340,133.2 1342,133.2 1344,133.3 1346,133.3 1348,133.4 1350,133.4 1352,133.5 1354,133.5 1356,133.5 1358,133.6 1360,133.6 1362,133.7 1364,133.7 1366,133.8 1368,133.8 1370,133.8 1372,133.9 1374,133.9 1376,134 1378,134 1380,134.1 1382,134.1 1384,134.1 1386,134.2 1388,134.2 1390,134.3 1392,134.3 1394,134.4 1396,134.4 1398,134.4 1400,134.5 1402,134.5 1404,134.6 1406,134.6 1408,134.6 1410,134.7 1412,134.7 1414,134.8 1416,134.8 1418,134.9 1420,134.9 1422,134.9 1424,135 1426,135 1428,135.1 1430,135.1 1432,135.2 1434,135.2 1436,135.2 1438,135.3 1440,135.3 1442,135.4 1444,135.4 1446,135.5 1448,135.5 1448,488 1098,488" fill="#6c6d2c"/>
<polygon points="1098,134 1100,132.4 1102,132.5 1104,132.4 1106,132.5 1108,132.6 1110,132.4 1112,132.4 1114,132.3 1116,132.2 1118,132.2 1120,132.3 1122,132.2 1124,131.9 1126,132.2 1128,132.1 1130,132.2 1132,132.3 1134,132.2 1136,132.2 1138,132.1 1140,132.2 1142,132.3 1144,132.2 1146,132.2 1148,132.1 1150,132.2 1152,132.4 1154,132.3 1156,132.2 1158,132.3 1160,132.5 1162,132.2 1164,132.3 1166,132.2 1168,132.1 1170,132.4 1172,132.3 1174,132.3 1176,132.2 1178,132.3 1180,132.3 1182,132.2 1184,132.4 1186,132.4 1188,132.5 1190,132.4 1192,132.4 1194,132.4 1196,132.5 1198,132.5 1200,132.5 1202,132.4 1204,132.4 1206,132.4 1208,132.4 1210,132.5 1212,132.5 1214,132.4 1216,132.5 1218,132.6 1220,132.6 1222,132.6 1224,132.5 1226,132.5 1228,132.6 1230,132.7 1232,132.5 1234,132.4 1236,132.7 1238,132.8 1240,132.2 1242,132.4 1244,132.4 1246,132.4 1248,132.4 1250,132.4 1252,132.6 1254,132.5 1256,132.5 1258,132.5 1260,132.4 1262,132.8 1264,132.9 1266,132.9 1268,133 1270,133 1272,133.2 1274,133.2 1276,133.3 1278,133.5 1280,133.6 1282,133.5 1284,133.5 1286,133.7 1288,133.7 1290,133.7 1292,133.7 1294,133.9 1296,134 1298,134 1300,133.8 1302,133.8 1304,133.9 1306,134 1308,133.9 1310,134.1 1312,134.1 1314,134.2 1316,134.3 1318,134.4 1320,134.5 1322,134.5 1324,134.6 1326,134.5 1328,134.6 1330,134.7 1332,134.8 1334,134.8 1336,135 1338,135.1 1340,135.3 1342,135.2 1344,135.2 1346,135.4 1348,135.3 1350,135.2 1352,135.3 1354,135.4 1356,135.5 1358,135.4 1360,135.5 1362,135.6 1364,135.6 1366,135.6 1368,135.7 1370,135.6 1372,135.5 1374,135.7 1376,135.9 1378,135.8 1380,136 1382,136 1384,136 1386,136 1388,135.9 1390,136 1392,136.1 1394,136.3 1396,136.4 1398,136.3 1400,136.2 1402,136.2 1404,136.4 1406,136.4 1408,136.5 1410,136.7 1412,136.7 1414,136.6 1416,136.6 1418,136.6 1420,136.8 1422,136.7 1424,136.7 1426,136.9 1428,137 1430,137.1 1432,137.1 1434,137.2 1436,137.3 1438,137.1 1440,137.2 1442,137.3 1444,137.3 1446,137.4 1448,137.4 1448,488 1098,488" fill="#207678"/>
<polygon points="1098,134 1100,132.7 1102,132.9 1104,132.9 1106,133.1 1108,133.2 1110,132.7 1112,132.7 1114,132.6 1116,132.4 1118,132.5 1120,132.7 1122,132.4 1124,131.9 1126,132.4 1128,132.3 1130,132.4 1132,132.6 1134,132.4 1136,132.5 1138,132.4 1140,132.5 1142,132.6 1144,132.4 1146,132.5 1148,132.4 1150,132.6 1152,132.8 1154,132.7 1156,132.4 1158,132.8 1160,133.1 1162,132.6 1164,132.7 1166,132.5 1168,132.2 1170,132.9 1172,132.8 1174,132.6 1176,132.6 1178,132.8 1180,132.7 1182,132.6 1184,132.9 1186,133 1188,133.2 1190,133 1192,132.9 1194,133 1196,133.1 1198,133.1 1200,133.1 1202,132.9 1204,132.9 1206,133 1208,132.9 1210,133.2 1212,133.2 1214,133 1216,133.2 1218,133.5 1220,133.5 1222,133.6 1224,133.5 1226,133.7 1228,134 1230,134.3 1232,133.9 1234,133.8 1236,134.3 1238,134.5 1240,133.3 1242,133.6 1244,133.6 1246,133.6 1248,133.5 1250,133.5 1252,133.9 1254,133.7 1256,133.6 1258,133.6 1260,133.4 1262,134 1264,134.3 1266,134.2 1268,134.3 1270,134.3 1272,134.7 1274,134.7 1276,134.8 1278,135.2 1280,135.3 1282,135.1 1284,134.9 1286,135.4 1288,135.3 1290,135.2 1292,135.3 1294,135.6 1296,135.7 1298,135.7 1300,135.2 1302,135.2 1304,135.3 1306,135.5 1308,135.4 1310,135.6 1312,135.7 1314,135.7 1316,135.8 1318,136.1 1320,136.2 1322,136.1 1324,136.3 1326,136.1 1328,136.2 1330,136.4 1332,136.5 1334,136.6 1336,136.8 1338,137.1 1340,137.3 1342,137.2 1344,137.1 1346,137.4 1348,137.3 1350,136.9 1352,137 1354,137.3 1356,137.5 1358,137.2 1360,137.4 1362,137.6 1364,137.4 1366,137.5 1368,137.7 1370,137.4 1372,137.2 1374,137.6 1376,137.7 1378,137.7 1380,138 1382,137.9 1384,137.9 1386,137.8 1388,137.6 1390,137.7 1392,137.8 1394,138.2 1396,138.3 1398,138.1 1400,138 1402,137.9 1404,138.2 1406,138.2 1408,138.4 1410,138.6 1412,138.7 1414,138.5 1416,138.5 1418,138.4 1420,138.7 1422,138.6 1424,138.5 1426,138.8 1428,138.8 1430,139.1 1432,139 1434,139.1 1436,139.3 1438,139 1440,139.1 1442,139.2 1444,139.1 1446,139.3 1448,139.3 1448,488 1098,488" fill="#292aa8"/>
<polygon points="1098,134 1100,133.1 1102,133.4 1104,133.3 1106,133.6 1108,133.8 1110,133.1 1112,133.1 1114,132.9 1116,132.7 1118,132.7 1120,133.1 1122,132.6 1124,131.9 1126,132.6 1128,132.5 1130,132.6 1132,132.9 1134,132.7 1136,132.9 1138,132.6 1140,132.8 1142,132.9 1144,132.7 1146,132.7 1148,132.6 1150,132.9 1152,133.3 1154,133.1 1156,132.7 1158,133.2 1160,133.7 1162,133 1164,133.1 1166,132.8 1168,132.4 1170,133.4 1172,133.2 1174,133 1176,132.9 1178,133.2 1180,133.1 1182,133 1184,133.5 1186,133.5 1188,133.8 1190,133.6 1192,133.5 1194,133.6 1196,133.8 1198,133.8 1200,133.8 1202,133.4 1204,133.4 1206,133.6 1208,133.5 1210,133.9 1212,133.9 1214,133.5 1216,134 1218,134.4 1220,134.4 1222,134.6 1224,134.5 1226,134.8 1228,135.4 1230,135.8 1232,135.3 1234,135.2 1236,135.9 1238,136.2 1240,134.4 1242,134.8 1244,134.7 1246,134.8 1248,134.6 1250,134.6 1252,135.2 1254,134.8 1256,134.7 1258,134.7 1260,134.3 1262,135.3 1264,135.6 1266,135.4 1268,135.6 1270,135.6 1272,136.2 1274,136.1 1276,136.3 1278,136.8 1280,137 1282,136.6 1284,136.4 1286,137 1288,137 1290,136.7 1292,136.9 1294,137.3 1296,137.4 1298,137.5 1300,136.6 1302,136.5 1304,136.7 1306,137 1308,136.8 1310,137.1 1312,137.2 1314,137.2 1316,137.4 1318,137.8 1320,138 1322,137.8 1324,138 1326,137.7 1328,137.8 1330,138.2 1332,138.2 1334,138.4 1336,138.6 1338,139 1340,139.4 1342,139.2 1344,139 1346,139.5 1348,139.2 1350,138.7 1352,138.8 1354,139.3 1356,139.5 1358,139.1 1360,139.3 1362,139.6 1364,139.2 1366,139.4 1368,139.6 1370,139.2 1372,138.8 1374,139.4 1376,139.6 1378,139.5 1380,140 1382,139.7 1384,139.8 1386,139.6 1388,139.3 1390,139.5 1392,139.6 1394,140.1 1396,140.3 1398,139.9 1400,139.8 1402,139.5 1404,140 1406,140.1 1408,140.2 1410,140.6 1412,140.6 1414,140.4 1416,140.3 1418,140.2 1420,140.7 1422,140.4 1424,140.3 1426,140.7 1428,140.7 1430,141.1 1432,140.9 1434,141.1 1436,141.3 1438,140.9 1440,140.9 1442,141.1 1444,141 1446,141.2 1448,141.2 1448,488 1098,488" fill="#339348"/>
<polygon points="1098,134 1100,133.4 1102,133.9 1104,133.7 1106,134.1 1108,134.4 1110,133.5 1112,133.5 1114,133.3 1116,132.9 1118,133 1120,133.4 1122,132.8 1124,131.9 1126,132.8 1128,132.6 1130,132.8 1132,133.2 1134,132.9 1136,133.2 1138,132.8 1140,133.1 1142,133.2 1144,132.9 1146,133 1148,132.8 1150,133.2 1152,133.7 1154,133.4 1156,132.9 1158,133.6 1160,134.3 1162,133.3 1164,133.5 1166,133 1168,132.6 1170,133.8 1172,133.6 1174,133.4 1176,133.3 1178,133.7 1180,133.5 1182,133.3 1184,134 1186,134.1 1188,134.5 1190,134.2 1192,134 1194,134.3 1196,134.4 1198,134.4 1200,134.4 1202,134 1204,134 1206,134.1 1208,134 1210,134.5 1212,134.6 1214,134.1 1216,134.7 1218,135.3 1220,135.3 1222,135.6 1224,135.5 1226,135.9 1228,136.7 1230,137.3 1232,136.7 1234,136.6 1236,137.6 1238,137.9 1240,135.5 1242,136.1 1244,135.9 1246,136 1248,135.7 1250,135.8 1252,136.5 1254,135.9 1256,135.8 1258,135.8 1260,135.3 1262,136.5 1264,137 1266,136.7 1268,136.9 1270,136.9 1272,137.6 1274,137.6 1276,137.8 1278,138.4 1280,138.7 1282,138.1 1284,137.9 1286,138.7 1288,138.6 1290,138.2 1292,138.4 1294,139 1296,139.1 1298,139.2 1300,138.1 1302,137.9 1304,138.1 1306,138.4 1308,138.2 1310,138.6 1312,138.8 1314,138.7 1316,139 1318,139.5 1320,139.7 1322,139.5 1324,139.7 1326,139.3 1328,139.5 1330,139.9 1332,140 1334,140.1 1336,140.5 1338,141 1340,141.4 1342,141.2 1344,140.9 1346,141.5 1348,141.1 1350,140.5 1352,140.6 1354,141.2 1356,141.5 1358,140.9 1360,141.2 1362,141.5 1364,141.1 1366,141.3 1368,141.5 1370,141 1372,140.4 1374,141.2 1376,141.5 1378,141.3 1380,142 1382,141.6 1384,141.7 1386,141.4 1388,140.9 1390,141.2 1392,141.4 1394,142.1 1396,142.2 1398,141.8 1400,141.5 1402,141.2 1404,141.8 1406,141.9 1408,142.1 1410,142.5 1412,142.6 1414,142.3 1416,142.1 1418,141.9 1420,142.6 1422,142.2 1424,142 1426,142.6 1428,142.6 1430,143.1 1432,142.9 1434,143.1 1436,143.3 1438,142.7 1440,142.8 1442,143 1444,142.9 1446,143.1 1448,143.2 1448,488 1098,488" fill="#592a9f"/>
<polygon points="1098,134 1100,133.8 1102,134.3 1104,134.1 1106,134.7 1108,135 1110,133.9 1112,133.8 1114,133.6 1116,133.1 1118,133.2 1120,133.8 1122,133 1124,131.9 1126,133 1128,132.8 1130,133.1 1132,133.5 1134,133.1 1136,133.5 1138,133 1140,133.4 1142,133.6 1144,133.2 1146,133.3 1148,133 1150,133.5 1152,134.2 1154,133.8 1156,133.2 1158,134.1 1160,134.9 1162,133.7 1164,133.9 1166,133.3 1168,132.7 1170,134.3 1172,134.1 1174,133.8 1176,133.7 1178,134.2 1180,133.9 1182,133.7 1184,134.5 1186,134.7 1188,135.2 1190,134.7 1192,134.5 1194,134.9 1196,135.1 1198,135.1 1200,135 1202,134.5 1204,134.5 1206,134.7 1208,134.6 1210,135.2 1212,135.3 1214,134.7 1216,135.4 1218,136.2 1220,136.2 1222,136.6 1224,136.5 1226,137.1 1228,138.1 1230,138.8 1232,138.1 1234,138 1236,139.2 1238,139.6 1240,136.6 1242,137.3 1244,137.1 1246,137.2 1248,136.8 1250,136.9 1252,137.8 1254,137.1 1256,136.9 1258,136.9 1260,136.2 1262,137.8 1264,138.3 1266,137.9 1268,138.1 1270,138.2 1272,139.1 1274,139 1276,139.3 1278,140.1 1280,140.4 1282,139.7 1284,139.3 1286,140.4 1288,140.2 1290,139.7 1292,140 1294,140.6 1296,140.8 1298,140.9 1300,139.5 1302,139.3 1304,139.5 1306,139.9 1308,139.6 1310,140.1 1312,140.3 1314,140.3 1316,140.6 1318,141.2 1320,141.4 1322,141.1 1324,141.4 1326,140.9 1328,141.1 1330,141.6 1332,141.7 1334,141.9 1336,142.3 1338,143 1340,143.5 1342,143.1 1344,142.8 1346,143.5 1348,143.1 1350,142.2 1352,142.4 1354,143.1 1356,143.5 1358,142.7 1360,143.1 1362,143.5 1364,142.9 1366,143.2 1368,143.4 1370,142.8 1372,142.1 1374,143 1376,143.4 1378,143.1 1380,143.9 1382,143.5 1384,143.6 1386,143.2 1388,142.6 1390,143 1392,143.1 1394,144 1396,144.2 1398,143.6 1400,143.3 1402,142.9 1404,143.6 1406,143.7 1408,143.9 1410,144.5 1412,144.6 1414,144.1 1416,143.9 1418,143.7 1420,144.5 1422,144 1424,143.8 1426,144.4 1428,144.5 1430,145.1 1432,144.8 1434,145 1436,145.3 1438,144.6 1440,144.7 1442,144.9 1444,144.7 1446,145 1448,145.1 1448,488 1098,488" fill="#932a3f"/>
<polygon points="854,138.1 856,137.8 858,137.5 860,137 862,138.4 864,139.1 866,140.6 868,139.8 870,137.4 872,135.7 874,135.5 876,139.1 878,142.4 880,139.7 882,137 884,137.8 886,139 888,138 890,136.2 892,133.9 894,132.5 896,131.2 898,131 900,132.4 902,132 904,131.2 906,129.8 908,129.9 910,130.3 912,130.6 914,130.2 916,129.2 918,129 920,129.5 922,129.1 924,129.1 926,128.9 928,129 930,128.8 932,128.3 934,127.9 936,128.2 938,128.3 940,129.7 942,130.3 944,129.2 946,129.3 948,130.5 950,130.4 952,130.3 954,129.9 956,129.9 958,129.6 960,130 962,130.7 964,129.8 966,129.8 968,130.5 970,131.5 972,130.7 974,130 976,130.1 978,130.3 980,129.7 982,129 984,129.7 986,128.9 988,128.6 990,128.9 992,129.5 994,129.4 996,128.6 998,128.4 1000,128.1 1002,128.8 1004,128.3 1006,127.6 1008,128.7 1010,129.4 1012,128.3 1014,133 1016,135 1018,136.3 1020,138.2 1022,136.8 1024,134.8 1026,133.8 1028,134.4 1030,134.7 1032,134.6 1034,134.6 1036,135.2 1038,137.3 1040,138.4 1042,140.3 1044,142 1046,143.2 1048,143 1050,141.9 1052,140.5 1054,139.6 1056,140.1 1058,139.1 1060,137.9 1062,138.3 1064,138.5 1066,138.4 1068,138.1 1070,137.7 1072,136.9 1074,137 1076,135.6 1078,135.4 1080,134.9 1082,135.2 1084,134.9 1086,134.8 1088,133.8 1090,133.6 1092,134.1 1094,133.8 1096,133.6 1098,134 1100,134.2 1102,134.8 1104,134.6 1106,135.2 1108,135.6 1110,134.3 1112,134.2 1114,133.9 1116,133.4 1118,133.5 1120,134.2 1122,133.2 1124,131.9 1126,133.2 1128,133 1130,133.3 1132,133.8 1134,133.4 1136,133.8 1138,133.2 1140,133.6 1142,133.9 1144,133.4 1146,133.5 1148,133.2 1150,133.8 1152,134.7 1154,134.2 1156,133.4 1158,134.5 1160,135.6 1162,134 1164,134.3 1166,133.6 1168,132.9 1170,134.8 1172,134.5 1174,134.2 1176,134 1178,134.6 1180,134.4 1182,134 1184,135.1 1186,135.2 1188,135.8 1190,135.3 1192,135.1 1194,135.5 1196,135.7 1198,135.7 1200,135.7 1202,135 1204,135.1 1206,135.3 1208,135.2 1210,135.9 1212,136 1214,135.3 1216,136.1 1218,137.2 1220,137.2 1222,137.6 1224,137.5 1226,138.2 1228,139.4 1230,140.4 1232,139.5 1234,139.4 1236,140.9 1238,141.4 1240,137.7 1242,138.5 1244,138.3 1246,138.4 1248,137.9 1250,138 1252,139.1 1254,138.2 1256,138 1258,137.9 1260,137.2 1262,139 1264,139.7 1266,139.2 1268,139.4 1270,139.6 1272,140.6 1274,140.4 1276,140.9 1278,141.7 1280,142.1 1282,141.2 1284,140.8 1286,142 1288,141.8 1290,141.3 1292,141.6 1294,142.3 1296,142.6 1298,142.6 1300,140.9 1302,140.7 1304,141 1306,141.4 1308,141.1 1310,141.6 1312,141.8 1314,141.8 1316,142.2 1318,142.8 1320,143.1 1322,142.8 1324,143.1 1326,142.4 1328,142.8 1330,143.3 1332,143.4 1334,143.7 1336,144.1 1338,144.9 1340,145.5 1342,145.1 1344,144.7 1346,145.6 1348,145 1350,144 1352,144.2 1354,145 1356,145.5 1358,144.6 1360,145 1362,145.4 1364,144.8 1366,145 1368,145.4 1370,144.6 1372,143.7 1374,144.8 1376,145.3 1378,145 1380,145.9 1382,145.4 1384,145.5 1386,145 1388,144.3 1390,144.7 1392,144.9 1394,145.9 1396,146.1 1398,145.4 1400,145.1 1402,144.6 1404,145.4 1406,145.5 1408,145.8 1410,146.4 1412,146.5 1414,146 1416,145.8 1418,145.5 1420,146.4 1422,145.8 1424,145.5 1426,146.3 1428,146.3 1430,147 1432,146.7 1434,147 1436,147.4 1438,146.5 1440,146.5 1442,146.8 1444,146.6 1446,147 1448,147 1448,488 854,488" fill="#44635a"/>
<polygon points="854,138.1 856,137.8 858,137.5 860,137 862,138.4 864,139.1 866,140.6 868,139.8 870,137.4 872,135.7 874,135.5 876,139.1 878,142.4 880,139.7 882,137 884,137.8 886,139 888,138 890,136.2 892,133.9 894,132.5 896,131.2 898,131 900,132.4 902,132 904,131.2 906,129.8 908,129.9 910,130.3 912,130.6 914,130.2 916,129.2 918,129 920,129.5 922,129.1 924,129.1 926,128.9 928,129 930,128.8 932,128.3 934,127.9 936,128.2 938,128.3 940,129.7 942,130.3 944,129.2 946,129.3 948,130.5 950,130.4 952,130.3 954,129.9 956,129.9 958,129.6 960,130 962,130.7 964,129.8 966,129.8 968,130.5 970,131.5 972,130.7 974,130 976,130.1 978,130.3 980,129.7 982,129 984,129.7 986,128.9 988,128.6 990,128.9 992,129.5 994,129.4 996,128.6 998,128.4 1000,128.1 1002,128.8 1004,128.3 1006,127.6 1008,128.7 1010,129.4 1012,128.3 1014,133 1016,135 1018,136.3 1020,138.2 1022,136.8 1024,134.8 1026,133.8 1028,134.4 1030,134.7 1032,134.6 1034,134.6 1036,135.2 1038,137.3 1040,138.4 1042,140.3 1044,142 1046,143.2 1048,143 1050,141.9 1052,140.5 1054,139.6 1056,140.1 1058,139.1 1060,137.9 1062,138.3 1064,138.5 1066,138.4 1068,138.1 1070,137.7 1072,136.9 1074,137 1076,135.6 1078,135.4 1080,134.9 1082,135.2 1084,134.9 1086,134.8 1088,133.8 1090,133.6 1092,134.1 1094,133.8 1096,133.6 1098,134 1100,134.2 1102,134.8 1104,134.6 1106,135.2 1108,135.6 1110,134.3 1112,134.2 1114,133.9 1116,133.4 1118,133.5 1120,134.2 1122,133.2 1124,131.9 1126,133.2 1128,133 1130,133.3 1132,133.8 1134,133.4 1136,133.8 1138,133.2 1140,133.6 1142,133.9 1144,133.4 1146,133.5 1148,133.2 1150,133.8 1152,134.7 1154,134.2 1156,133.4 1158,134.5 1160,135.6 1162,134 1164,134.3 1166,133.6 1168,132.9 1170,134.8 1172,134.5 1174,134.2 1176,134 1178,134.6 1180,134.4 1182,134 1184,135.1 1186,135.2 1188,135.8 1190,135.3 1192,135.1 1194,135.5 1196,135.7 1198,135.7 1200,135.7 1202,135 1204,135.1 1206,135.3 1208,135.2 1210,135.9 1212,136 1214,135.3 1216,136.1 1218,137.2 1220,137.2 1222,137.6 1224,137.5 1226,138.2 1228,139.4 1230,140.4 1232,139.5 1234,139.4 1236,140.9 1238,141.4 1240,137.7 1242,138.5 1244,138.3 1246,138.4 1248,137.9 1250,138 1252,139.1 1254,138.2 1256,138 1258,137.9 1260,137.2 1262,139 1264,139.7 1266,139.2 1268,139.4 1270,139.6 1272,140.6 1274,140.4 1276,140.9 1278,141.7 1280,142.1 1282,141.2 1284,140.8 1286,142 1288,141.8 1290,141.3 1292,141.6 1294,142.3 1296,142.6 1298,142.6 1300,142.7 1302,143.3 1304,143.3 1306,143.3 1308,143.5 1310,142.9 1312,143 1314,144.1 1316,145.2 1318,144.9 1320,143.1 1322,144 1324,144.2 1326,144.6 1328,144.4 1330,145.3 1332,145.4 1334,144.8 1336,145.7 1338,146.5 1340,145.5 1342,145.4 1344,146.6 1346,145.6 1348,146 1350,145.7 1352,145.7 1354,146.1 1356,146.4 1358,145.7 1360,145.8 1362,146.4 1364,146.2 1366,146.1 1368,147.1 1370,146.9 1372,147.8 1374,148 1376,147.6 1378,147.7 1380,147.5 1382,147.4 1384,147.5 1386,148.5 1388,148.2 1390,148.3 1392,150.3 1394,151 1396,151.1 1398,151.5 1400,151 1402,151.3 1404,152.1 1406,152.1 1408,152.7 1410,154 1412,153.6 1414,152.9 1416,152.7 1418,152.2 1420,152.4 1422,151.8 1424,150 1426,149.9 1428,151.5 1430,151.2 1432,149.6 1434,149.4 1436,149.6 1438,150.2 1440,150.2 1442,150.3 1444,150.4 1446,150.2 1448,150.2 1448,488 854,488" fill="#763e51"/>
<polygon points="854,138.1 856,137.8 858,137.5 860,137 862,138.4 864,139.1 866,140.6 868,139.8 870,137.4 872,135.7 874,135.5 876,139.1 878,142.4 880,139.7 882,137 884,137.8 886,139 888,138 890,136.2 892,133.9 894,132.5 896,131.2 898,131 900,132.4 902,132 904,131.2 906,129.8 908,129.9 910,130.3 912,130.6 914,130.2 916,129.2 918,129 920,129.5 922,129.1 924,129.1 926,128.9 928,129 930,128.8 932,128.3 934,127.9 936,128.2 938,128.3 940,129.7 942,130.3 944,129.2 946,129.3 948,130.5 950,130.4 952,130.3 954,129.9 956,129.9 958,129.6 960,130 962,130.7 964,129.8 966,129.8 968,130.5 970,131.5 972,130.7 974,130 976,130.1 978,130.3 980,129.7 982,129 984,129.7 986,128.9 988,128.6 990,128.9 992,129.5 994,129.4 996,128.6 998,128.4 1000,128.1 1002,128.8 1004,128.3 1006,127.6 1008,128.7 1010,129.4 1012,128.3 1014,133 1016,135 1018,136.3 1020,138.2 1022,136.8 1024,134.8 1026,133.8 1028,134.4 1030,134.7 1032,134.6 1034,134.6 1036,135.2 1038,137.3 1040,138.4 1042,140.3 1044,142 1046,143.2 1048,143 1050,141.9 1052,140.5 1054,139.6 1056,140.1 1058,139.1 1060,137.9 1062,138.3 1064,138.5 1066,138.4 1068,138.1 1070,137.7 1072,136.9 1074,137 1076,135.6 1078,135.4 1080,134.9 1082,135.2 1084,134.9 1086,134.8 1088,133.8 1090,133.6 1092,134.1 1094,133.8 1096,133.6 1098,134 1100,134.2 1102,134.8 1104,134.6 1106,135.2 1108,135.6 1110,134.3 1112,134.2 1114,133.9 1116,133.4 1118,133.5 1120,134.2 1122,133.2 1124,131.9 1126,133.2 1128,133 1130,133.3 1132,133.8 1134,133.4 1136,133.8 1138,133.2 1140,133.6 1142,133.9 1144,133.4 1146,133.5 1148,133.2 1150,133.8 1152,134.7 1154,134.2 1156,133.4 1158,134.5 1160,135.6 1162,134 1164,134.3 1166,133.6 1168,132.9 1170,134.8 1172,134.5 1174,134.2 1176,134 1178,134.6 1180,134.4 1182,134 1184,135.1 1186,135.2 1188,135.8 1190,135.3 1192,135.1 1194,135.5 1196,135.7 1198,135.7 1200,135.7 1202,135 1204,135.1 1206,135.3 1208,135.2 1210,135.9 1212,136 1214,135.3 1216,136.1 1218,137.2 1220,137.2 1222,137.6 1224,137.5 1226,138.2 1228,139.4 1230,140.4 1232,139.5 1234,139.4 1236,140.9 1238,141.4 1240,140.7 1242,140.7 1244,140.9 1246,140.9 1248,140.4 1250,140 1252,141.3 1254,140.9 1256,140.4 1258,141 1260,141 1262,141.7 1264,142.5 1266,142 1268,142.2 1270,142.3 1272,142.2 1274,142.3 1276,142.4 1278,144.2 1280,143.7 1282,143.9 1284,143.7 1286,143.6 1288,144 1290,144 1292,144.5 1294,144.7 1296,144.8 1298,145.6 1300,144.9 1302,145.6 1304,144.8 1306,145.1 1308,145.9 1310,145.9 1312,145.8 1314,145.9 1316,146 1318,146.4 1320,146.3 1322,146.5 1324,146.9 1326,146.1 1328,146.6 1330,146.6 1332,146.5 1334,146.7 1336,147.4 1338,147.6 1340,147.2 1342,147.2 1344,148.4 1346,148.3 1348,147.9 1350,147.5 1352,148.5 1354,149.9 1356,149.6 1358,148.8 1360,148.9 1362,149.8 1364,149.8 1366,150.1 1368,149.4 1370,149.9 1372,150 1374,150.2 1376,150.1 1378,150.8 1380,150.3 1382,150.7 1384,151.6 1386,151.2 1388,150.9 1390,152.2 1392,152.7 1394,153.6 1396,154.2 1398,153.5 1400,153.8 1402,153.4 1404,154.2 1406,155.1 1408,155.7 1410,156.3 1412,157.1 1414,156.9 1416,156.4 1418,155.7 1420,155.4 1422,154.8 1424,155.1 1426,154.6 1428,153.5 1430,152.9 1432,155.1 1434,156 1436,154.6 1438,154.6 1440,155.3 1442,155.6 1444,155.2 1446,155.1 1448,155.2 1448,488 854,488" fill="#986446"/>
<polygon points="854,138.1 856,137.8 858,137.5 860,137 862,138.4 864,139.1 866,140.6 868,139.8 870,137.4 872,135.7 874,135.5 876,139.1 878,142.4 880,139.7 882,137 884,137.8 886,139 888,138 890,136.2 892,133.9 894,132.5 896,131.2 898,131 900,132.4 902,132 904,131.2 906,129.8 908,129.9 910,130.3 912,130.6 914,130.2 916,129.2 918,129 920,129.5 922,129.1 924,129.1 926,128.9 928,129 930,128.8 932,128.3 934,127.9 936,128.2 938,128.3 940,129.7 942,130.3 944,129.2 946,129.3 948,130.5 950,130.4 952,130.3 954,129.9 956,129.9 958,129.6 960,130 962,130.7 964,129.8 966,129.8 968,130.5 970,131.5 972,130.7 974,130 976,130.1 978,130.3 980,129.7 982,129 984,129.7 986,128.9 988,128.6 990,128.9 992,129.5 994,129.4 996,128.6 998,128.4 1000,128.1 1002,128.8 1004,128.3 1006,127.6 1008,128.7 1010,129.4 1012,128.3 1014,133 1016,135 1018,136.3 1020,138.2 1022,136.8 1024,134.8 1026,133.8 1028,134.4 1030,134.7 1032,134.6 1034,134.6 1036,135.2 1038,137.3 1040,138.4 1042,140.3 1044,142 1046,143.2 1048,143 1050,141.9 1052,140.5 1054,139.6 1056,140.1 1058,139.1 1060,137.9 1062,138.3 1064,138.5 1066,138.4 1068,138.1 1070,137.7 1072,136.9 1074,137 1076,135.6 1078,135.4 1080,134.9 1082,135.2 1084,134.9 1086,134.8 1088,133.8 1090,133.6 1092,134.1 1094,133.8 1096,133.6 1098,134 1100,134.2 1102,134.8 1104,134.6 1106,135.2 1108,135.6 1110,134.3 1112,134.2 1114,133.9 1116,133.4 1118,133.5 1120,134.2 1122,133.2 1124,131.9 1126,133.2 1128,133 1130,133.3 1132,133.8 1134,133.4 1136,133.8 1138,133.2 1140,133.6 1142,133.9 1144,133.4 1146,133.5 1148,133.2 1150,133.8 1152,134.7 1154,134.2 1156,133.4 1158,134.5 1160,135.6 1162,134 1164,134.3 1166,133.6 1168,132.9 1170,134.8 1172,134.5 1174,134.2 1176,134 1178,134.6 1180,134.4 1182,134 1184,135.1 1186,135.2 1188,135.8 1190,135.3 1192,135.1 1194,135.5 1196,135.7 1198,135.7 1200,135.7 1202,135 1204,135.1 1206,135.3 1208,135.2 1210,135.9 1212,136 1214,135.3 1216,136.1 1218,137.2 1220,137.2 1222,137.6 1224,137.5 1226,138.2 1228,139.4 1230,140.4 1232,139.5 1234,139.4 1236,140.9 1238,141.4 1240,141.1 1242,140.7 1244,142.2 1246,142.8 1248,141.9 1250,142.6 1252,142.1 1254,142.1 1256,142.9 1258,143.7 1260,143.2 1262,142.4 1264,142.5 1266,142 1268,142.2 1270,143.8 1272,144.3 1274,143.8 1276,143.3 1278,144.2 1280,144.2 1282,144.1 1284,144.6 1286,145.1 1288,146.3 1290,146.9 1292,146 1294,146.3 1296,147.1 1298,146.1 1300,145.3 1302,145.8 1304,145.9 1306,146.2 1308,146.7 1310,146.7 1312,146.2 1314,146 1316,146 1318,147 1320,147.1 1322,146.5 1324,147.3 1326,148.7 1328,148 1330,147.2 1332,147.6 1334,149 1336,149.6 1338,149.2 1340,149.7 1342,150.3 1344,151.5 1346,151.5 1348,150.9 1350,151.7 1352,151.8 1354,151.7 1356,152.3 1358,153.3 1360,153.4 1362,154.1 1364,154.3 1366,153.9 1368,154.3 1370,154.2 1372,154.7 1374,155.1 1376,154.7 1378,155.3 1380,157.1 1382,156.7 1384,156.3 1386,157 1388,158.8 1390,159.9 1392,160.5 1394,160.5 1396,160.3 1398,160.6 1400,160.3 1402,161.7 1404,162 1406,161.7 1408,162.3 1410,162.8 1412,163.4 1414,163.1 1416,162.2 1418,162.4 1420,160.9 1422,160.9 1424,160.7 1426,160.7 1428,160.8 1430,161.2 1432,161.6 1434,162.3 1436,161.3 1438,161.2 1440,161.7 1442,161.6 1444,161.1 1446,161.4 1448,161.5 1448,488 854,488" fill="#581027"/>
<polygon points="854,138.1 856,137.8 858,137.5 860,137 862,138.4 864,139.1 866,140.6 868,139.8 870,137.4 872,135.7 874,135.5 876,139.1 878,142.4 880,139.7 882,137 884,137.8 886,139 888,138 890,136.2 892,133.9 894,132.5 896,131.2 898,131 900,132.4 902,132 904,131.2 906,129.8 908,129.9 910,130.3 912,130.6 914,130.2 916,129.2 918,129 920,129.5 922,129.1 924,129.1 926,128.9 928,129 930,128.8 932,128.3 934,127.9 936,128.2 938,128.3 940,129.7 942,130.3 944,129.2 946,129.3 948,130.5 950,130.4 952,130.3 954,129.9 956,129.9 958,129.6 960,130 962,130.7 964,129.8 966,129.8 968,130.5 970,131.5 972,130.7 974,130 976,130.1 978,130.3 980,129.7 982,129 984,129.7 986,128.9 988,128.6 990,128.9 992,129.5 994,129.4 996,128.6 998,128.4 1000,128.1 1002,128.8 1004,128.3 1006,127.6 1008,128.7 1010,129.4 1012,128.3 1014,133 1016,135 1018,136.3 1020,138.2 1022,136.8 1024,134.8 1026,133.8 1028,134.4 1030,134.7 1032,134.6 1034,134.6 1036,135.2 1038,137.3 1040,138.4 1042,140.3 1044,142 1046,143.2 1048,143 1050,141.9 1052,140.5 1054,139.6 1056,140.1 1058,139.1 1060,137.9 1062,138.3 1064,138.5 1066,138.4 1068,138.1 1070,137.7 1072,136.9 1074,137 1076,135.6 1078,135.4 1080,134.9 1082,135.2 1084,134.9 1086,134.8 1088,133.8 1090,133.6 1092,134.1 1094,133.8 1096,133.6 1098,134 1100,134.2 1102,134.8 1104,134.6 1106,135.2 1108,135.6 1110,134.3 1112,134.2 1114,133.9 1116,133.4 1118,133.5 1120,134.2 1122,133.2 1124,131.9 1126,133.2 1128,133 1130,133.3 1132,133.8 1134,133.4 1136,133.8 1138,133.2 1140,133.6 1142,133.9 1144,133.4 1146,133.5 1148,133.2 1150,133.8 1152,134.7 1154,134.2 1156,133.4 1158,134.5 1160,135.6 1162,134 1164,134.6 1166,136.4 1168,135.9 1170,136.4 1172,137 1174,136.8 1176,136.6 1178,137 1180,136.2 1182,136.2 1184,136.3 1186,136.3 1188,136.7 1190,136.3 1192,136 1194,136.3 1196,136.1 1198,136.3 1200,136.9 1202,137.4 1204,137.4 1206,138 1208,137.9 1210,137 1212,136.8 1214,137.1 1216,137.9 1218,139.2 1220,139.7 1222,139.9 1224,142 1226,144 1228,146.7 1230,144.9 1232,143.8 1234,142.6 1236,142.8 1238,143.2 1240,143.7 1242,144.1 1244,144.6 1246,145.9 1248,148.8 1250,151.8 1252,152.6 1254,152.8 1256,151.8 1258,150.5 1260,150.4 1262,149.7 1264,149.7 1266,150.9 1268,151.8 1270,153.4 1272,153.9 1274,153.6 1276,154 1278,154.7 1280,155.6 1282,156.2 1284,156.5 1286,157.6 1288,158.2 1290,159.6 1292,160.5 1294,159.5 1296,157.7 1298,156.4 1300,156 1302,155.8 1304,154.6 1306,154.2 1308,154 1310,153.6 1312,154.1 1314,153.5 1316,152 1318,151.5 1320,151.9 1322,153.4 1324,153.7 1326,154.1 1328,155.5 1330,157.2 1332,156.6 1334,157.9 1336,160.1 1338,161.9 1340,163.6 1342,164.9 1344,166.5 1346,168.9 1348,169.9 1350,171.1 1352,172.5 1354,171.7 1356,171.5 1358,170.1 1360,170.2 1362,170.2 1364,170.4 1366,170.3 1368,169.3 1370,169.6 1372,169.2 1374,169.6 1376,168.9 1378,168.8 1380,172.3 1382,174.3 1384,176.2 1386,173.8 1388,172.9 1390,172.1 1392,172.2 1394,172 1396,171.4 1398,171.1 1400,172.5 1402,172.7 1404,173.5 1406,174.5 1408,175 1410,174.4 1412,174.6 1414,173.4 1416,172.5 1418,171.2 1420,170.1 1422,169.9 1424,170.2 1426,170.2 1428,169.6 1430,168.8 1432,167.4 1434,167.8 1436,167.5 1438,166.7 1440,165.3 1442,165.5 1444,166.3 1446,168 1448,168.5 1448,488 854,488" fill="#0c4054"/>
<polygon points="854,138.1 856,137.8 858,137.5 860,137 862,138.4 864,139.1 866,140.6 868,139.8 870,137.4 872,135.7 874,135.5 876,139.1 878,142.4 880,139.7 882,137 884,137.8 886,139 888,138 890,136.2 892,133.9 894,132.5 896,131.2 898,131 900,132.4 902,132 904,131.2 906,129.8 908,129.9 910,130.3 912,130.6 914,130.2 916,129.2 918,129 920,129.5 922,129.1 924,129.1 926,128.9 928,129 930,128.8 932,128.3 934,127.9 936,128.2 938,128.3 940,129.7 942,130.3 944,129.2 946,129.3 948,130.5 950,130.4 952,130.3 954,129.9 956,129.9 958,129.6 960,130 962,130.7 964,129.8 966,129.8 968,130.5 970,131.5 972,130.7 974,130 976,130.1 978,130.3 980,129.7 982,129 984,129.7 986,128.9 988,128.6 990,128.9 992,129.5 994,129.4 996,128.6 998,128.4 1000,128.1 1002,128.8 1004,128.3 1006,127.6 1008,128.7 1010,129.4 1012,130.7 1014,133.8 1016,135.4 1018,138.2 1020,138.2 1022,138 1024,137.1 1026,136 1028,136.7 1030,136.7 1032,136.4 1034,136.1 1036,135.2 1038,137.3 1040,140.3 1042,143.4 1044,144.5 1046,144.2 1048,143.6 1050,143.4 1052,143.4 1054,142 1056,140.8 1058,140.8 1060,139.7 1062,139.6 1064,138.7 1066,139.8 1068,140.1 1070,138.8 1072,139.1 1074,138.3 1076,137.6 1078,137.1 1080,137 1082,136.7 1084,136.2 1086,137.1 1088,137.9 1090,136.7 1092,136.3 1094,136 1096,136.1 1098,136.9 1100,137.4 1102,137.9 1104,137 1106,137.2 1108,138.9 1110,140.5 1112,141.5 1114,140.7 1116,140.4 1118,143.1 1120,146.1 1122,149.3 1124,150.2 1126,151.5 1128,153.3 1130,153.9 1132,154.6 1134,156.1 1136,157.3 1138,156.4 1140,156.6 1142,156.7 1144,163 1146,157.7 1148,156.3 1150,156.3 1152,157 1154,157 1156,156 1158,156.5 1160,155.6 1162,155.1 1164,155.6 1166,154.4 1168,154.1 1170,154.2 1172,154.4 1174,154.5 1176,154.2 1178,154.8 1180,153.7 1182,153 1184,153 1186,152.7 1188,151.4 1190,151.5 1192,152.3 1194,152.7 1196,152.2 1198,151.8 1200,151 1202,150.3 1204,150.5 1206,150.3 1208,151.1 1210,150.4 1212,150.3 1214,150.8 1216,151.6 1218,152.4 1220,153 1222,153.2 1224,154.1 1226,155.8 1228,156 1230,155.2 1232,154.5 1234,154.4 1236,154.1 1238,154.4 1240,154.4 1242,155.4 1244,156.2 1246,156 1248,156 1250,156.7 1252,159.6 1254,159.8 1256,159.7 1258,159.5 1260,159.4 1262,159 1264,159.6 1266,158.7 1268,157.9 1270,158.3 1272,158.1 1274,158.6 1276,158.3 1278,159.1 1280,158.7 1282,157.6 1284,158.8 1286,160.1 1288,160.5 1290,161.2 1292,160.7 1294,160.5 1296,160.8 1298,160.2 1300,160.2 1302,160.1 1304,159.8 1306,158.8 1308,158.5 1310,158.9 1312,160 1314,158.3 1316,158.9 1318,159.6 1320,160.8 1322,162.1 1324,163.4 1326,164.1 1328,164.9 1330,165.5 1332,167 1334,168.2 1336,169 1338,169.9 1340,170.9 1342,173.5 1344,175 1346,175.8 1348,176 1350,180.2 1352,180.9 1354,178.9 1356,178.5 1358,178.8 1360,178.6 1362,177.9 1364,177.5 1366,177.3 1368,177 1370,176.8 1372,175.8 1374,175.8 1376,176.3 1378,174.7 1380,178.4 1382,181.4 1384,183.8 1386,181.2 1388,178.9 1390,177.1 1392,177.6 1394,179.1 1396,179.7 1398,179.5 1400,179.5 1402,179.5 1404,180.5 1406,180.9 1408,181.1 1410,182 1412,181.8 1414,180.6 1416,179 1418,178 1420,177.6 1422,177.2 1424,176.3 1426,175.3 1428,175.1 1430,174.5 1432,173.9 1434,174.7 1436,173.8 1438,172.9 1440,172.6 1442,174.1 1444,175.2 1446,175.9 1448,177 1448,488 854,488" fill="#7ea21a"/>
<polygon points="854,138.1 856,137.8 858,137.5 860,137 862,138.4 864,139.1 866,140.6 868,139.8 870,137.4 872,135.7 874,135.5 876,139.1 878,142.4 880,139.7 882,137 884,137.8 886,139 888,138 890,136.2 892,133.9 894,132.5 896,131.2 898,131 900,132.4 902,132 904,131.2 906,129.8 908,129.9 910,130.3 912,130.6 914,130.2 916,129.2 918,129 920,129.5 922,129.1 924,129.1 926,128.9 928,129 930,128.8 932,128.3 934,127.9 936,128.2 938,128.3 940,129.7 942,130.3 944,129.2 946,129.3 948,130.5 950,130.4 952,130.3 954,129.9 956,129.9 958,129.6 960,130 962,130.7 964,129.8 966,129.8 968,130.5 970,131.5 972,130.7 974,130 976,130.1 978,130.3 980,129.7 982,129 984,129.7 986,128.9 988,128.6 990,128.9 992,129.5 994,129.4 996,128.6 998,128.4 1000,128.1 1002,128.8 1004,128.3 1006,127.6 1008,128.7 1010,129.4 1012,131.5 1014,135.4 1016,137.3 1018,138.2 1020,139.6 1022,139.4 1024,138.5 1026,137.5 1028,137.7 1030,138.3 1032,138.7 1034,138.5 1036,138.1 1038,139.4 1040,141.1 1042,143.4 1044,144.5 1046,145.7 1048,145.2 1050,143.7 1052,143.7 1054,142.4 1056,142.3 1058,142.6 1060,141.5 1062,143.2 1064,143.8 1066,143.8 1068,144.6 1070,145.1 1072,143 1074,142.4 1076,142.4 1078,141.2 1080,143.9 1082,147.9 1084,148.2 1086,148.4 1088,148.6 1090,148.1 1092,148.4 1094,149 1096,149.4 1098,149.8 1100,149.5 1102,149.6 1104,150.1 1106,151 1108,150 1110,150.5 1112,150.3 1114,151 1116,150.5 1118,153.8 1120,157.9 1122,161.5 1124,163.3 1126,162.9 1128,163.3 1130,165 1132,166.8 1134,167 1136,165.6 1138,164.1 1140,166.2 1142,167.9 1144,174.8 1146,167.1 1148,166.5 1150,167.9 1152,169.8 1154,168.9 1156,168.2 1158,167.8 1160,167.5 1162,166.7 1164,165.6 1166,166 1168,166.9 1170,168.1 1172,167.3 1174,167.3 1176,168.2 1178,168.7 1180,169.3 1182,168.9 1184,168 1186,168 1188,168 1190,167.8 1192,167.5 1194,166.7 1196,165.7 1198,166.1 1200,167.9 1202,169.5 1204,169.6 1206,169.6 1208,168.4 1210,166.9 1212,166.5 1214,166.9 1216,166.6 1218,167.1 1220,167.1 1222,167 1224,169 1226,171.5 1228,172 1230,171.4 1232,169.8 1234,170.3 1236,171.9 1238,172.7 1240,172.7 1242,172.1 1244,173.6 1246,174.1 1248,174.6 1250,174.6 1252,178 1254,178.1 1256,177.5 1258,177.5 1260,175.7 1262,174.9 1264,173.2 1266,173.8 1268,174.8 1270,175.6 1272,175.8 1274,175.4 1276,175.1 1278,175.9 1280,175.4 1282,176.5 1284,176.2 1286,175.6 1288,175 1290,174.8 1292,176.6 1294,176.3 1296,176.8 1298,176.7 1300,177.4 1302,177.5 1304,178.3 1306,178.7 1308,179.4 1310,180 1312,179.8 1314,181.6 1316,184.3 1318,186.8 1320,188.2 1322,190.2 1324,189.6 1326,191.1 1328,192.2 1330,193.4 1332,195.5 1334,194.9 1336,193.6 1338,195.8 1340,198.6 1342,201.2 1344,202.6 1346,203.6 1348,207 1350,212.9 1352,209.6 1354,207.5 1356,206.2 1358,205.6 1360,204.7 1362,205.5 1364,205.7 1366,205 1368,205.2 1370,205.7 1372,205.8 1374,205.7 1376,205.7 1378,209.8 1380,217.3 1382,220 1384,221.5 1386,222.1 1388,223.1 1390,223.9 1392,224 1394,224.1 1396,223.8 1398,224.6 1400,225.4 1402,224.4 1404,224.8 1406,225.5 1408,226.9 1410,227.9 1412,228.7 1414,228.4 1416,227.4 1418,227.8 1420,227.1 1422,225.8 1424,225.7 1426,226.3 1428,226.5 1430,225.5 1432,225.1 1434,225.8 1436,225.6 1438,225.6 1440,226.6 1442,224.4 1444,222.9 1446,220.8 1448,178 1448,488 854,488" fill="#9e5618"/>
<polygon points="854,141.6 856,141.3 858,139.7 860,139.9 862,140.6 864,141.1 866,142.2 868,140.3 870,138.7 872,138.7 874,137.4 876,140 878,142.9 880,141.1 882,138.9 884,141.6 886,144.5 888,143.8 890,141.9 892,139.7 894,137.9 896,140.6 898,141.7 900,143.8 902,143.3 904,140.6 906,139 908,137.8 910,136.6 912,137.9 914,136.9 916,137.2 918,137.3 920,136.4 922,136.8 924,135.7 926,136.2 928,136.6 930,137.9 932,137.1 934,135.9 936,134.6 938,134.3 940,133.8 942,131.6 944,130.9 946,132.9 948,134.3 950,135.8 952,137.4 954,133.4 956,133.4 958,133.2 960,134.8 962,134.1 964,132.6 966,132.3 968,133.5 970,133.1 972,132.7 974,133.5 976,133.1 978,132.9 980,133.5 982,133.1 984,132.4 986,132.3 988,131.6 990,131.6 992,131.9 994,131.6 996,130.5 998,130.3 1000,131 1002,130.2 1004,131.4 1006,131.6 1008,130.2 1010,130.3 1012,136.3 1014,138.7 1016,139.4 1018,140.8 1020,141.3 1022,140.3 1024,139.6 1026,138.4 1028,137.7 1030,138.8 1032,139.4 1034,139.4 1036,138.4 1038,143.4 1040,147.6 1042,149.9 1044,151.6 1046,151.4 1048,152.5 1050,153.2 1052,154.5 1054,153.5 1056,151.7 1058,151.4 1060,150.6 1062,151.6 1064,153.5 1066,154.3 1068,154.2 1070,153.7 1072,154.2 1074,154.6 1076,155.4 1078,157.9 1080,161.4 1082,161.5 1084,161.6 1086,160.8 1088,161 1090,161.2 1092,160.8 1094,160.2 1096,160.7 1098,161.2 1100,160.6 1102,159.7 1104,160.3 1106,160.1 1108,159 1110,159.2 1112,159.8 1114,159.5 1116,160.8 1118,165.2 1120,169.1 1122,172.3 1124,173 1126,174 1128,174.8 1130,174.9 1132,174.3 1134,174.6 1136,175.3 1138,174.3 1140,173.7 1142,173.4 1144,179.7 1146,174.1 1148,173.9 1150,174.2 1152,174.3 1154,174.5 1156,173.4 1158,173.3 1160,172.8 1162,171.7 1164,171.5 1166,171.8 1168,172.3 1170,173.2 1172,173.1 1174,174.3 1176,174.1 1178,173.7 1180,174.4 1182,174.2 1184,174.4 1186,175.1 1188,175.6 1190,176.4 1192,175.2 1194,173.6 1196,174 1198,175.8 1200,176.3 1202,176.7 1204,178.9 1206,177.7 1208,177 1210,174.9 1212,174.4 1214,175.3 1216,175.6 1218,174.5 1220,174.2 1222,175.2 1224,176.1 1226,179.1 1228,179.6 1230,178.6 1232,178.2 1234,178.6 1236,179.3 1238,179.8 1240,179.6 1242,179.7 1244,181.5 1246,183.2 1248,184.1 1250,185 1252,185.5 1254,185 1256,184.6 1258,183.5 1260,181.8 1262,181.5 1264,181.8 1266,182.5 1268,182.2 1270,181.6 1272,182.5 1274,182.8 1276,184.7 1278,184.5 1280,184.5 1282,184.8 1284,185.2 1286,184.8 1288,185.4 1290,185.2 1292,185.5 1294,185.9 1296,185.8 1298,186.1 1300,187.3 1302,187.5 1304,187.6 1306,188.5 1308,188.3 1310,187.9 1312,188.8 1314,190.2 1316,192 1318,194.1 1320,195.4 1322,197.5 1324,199.2 1326,200.1 1328,201.1 1330,201.9 1332,201.3 1334,201.8 1336,202.1 1338,205 1340,207.5 1342,209.3 1344,210.6 1346,213.4 1348,217.3 1350,221.7 1352,219.3 1354,216.1 1356,215.2 1358,214.6 1360,213.7 1362,213 1364,213.2 1366,213.3 1368,213.3 1370,213.1 1372,213.7 1374,214.7 1376,214.9 1378,216.9 1380,223.7 1382,226.2 1384,227.3 1386,228.4 1388,230.3 1390,230.2 1392,230.3 1394,230.6 1396,231.3 1398,231.6 1400,231.7 1402,231.9 1404,232.3 1406,232.4 1408,233.1 1410,232.3 1412,233.9 1414,234.7 1416,234.5 1418,233.7 1420,233.8 1422,232.5 1424,233.7 1426,233.1 1428,233.2 1430,234 1432,234.8 1434,233.5 1436,233.1 1438,234.7 1440,234 1442,232.8 1444,232.5 1446,231.4 1448,186 1448,488 854,488" fill="#21169f"/>
<polygon points="854,141.6 856,141.3 858,139.7 860,139.9 862,140.6 864,141.1 866,142.2 868,140.3 870,138.7 872,138.7 874,137.4 876,140 878,142.9 880,141.1 882,138.9 884,141.6 886,144.5 888,143.8 890,141.9 892,139.7 894,137.9 896,140.6 898,141.7 900,143.8 902,143.3 904,140.6 906,139 908,137.8 910,136.6 912,137.9 914,136.9 916,137.2 918,137.3 920,136.4 922,136.8 924,135.7 926,136.2 928,136.6 930,137.9 932,137.1 934,135.9 936,134.6 938,134.3 940,133.8 942,131.6 944,130.9 946,132.9 948,134.3 950,135.8 952,137.4 954,133.4 956,133.4 958,133.2 960,134.8 962,134.1 964,132.6 966,132.3 968,133.5 970,133.1 972,132.7 974,133.5 976,133.1 978,132.9 980,133.5 982,133.1 984,132.4 986,132.3 988,131.6 990,131.6 992,131.9 994,131.6 996,130.5 998,130.3 1000,131 1002,130.2 1004,131.4 1006,131.6 1008,130.2 1010,130.3 1012,136.3 1014,138.7 1016,139.4 1018,140.8 1020,141.3 1022,140.3 1024,139.6 1026,138.4 1028,137.7 1030,138.8 1032,139.4 1034,139.4 1036,138.4 1038,143.4 1040,148.4 1042,149.9 1044,152.4 1046,153.7 1048,154.2 1050,153.9 1052,154.6 1054,154 1056,153.3 1058,152.1 1060,152 1062,153.2 1064,155.5 1066,156.4 1068,155 1070,153.7 1072,154.2 1074,154.6 1076,155.4 1078,158.5 1080,164.6 1082,164.7 1084,163.7 1086,164.1 1088,165.4 1090,165.2 1092,164.2 1094,163.6 1096,162.3 1098,161.8 1100,162.4 1102,162 1104,160.3 1106,160.3 1108,161.7 1110,164.6 1112,163.6 1114,162.1 1116,163.1 1118,167.3 1120,170.1 1122,173.3 1124,173.5 1126,174.3 1128,175.8 1130,176 1132,176.9 1134,176.2 1136,175.3 1138,175.5 1140,175.7 1142,175.3 1144,179.7 1146,175 1148,175.5 1150,174.4 1152,174.3 1154,175.1 1156,175.6 1158,174.2 1160,173.6 1162,173.7 1164,174.6 1166,174 1168,174 1170,174.1 1172,175.2 1174,175.4 1176,175.8 1178,176.1 1180,177.1 1182,177.9 1184,177.6 1186,178.5 1188,178.8 1190,178.9 1192,178.1 1194,178.5 1196,178.7 1198,179.4 1200,180.5 1202,182.3 1204,183.6 1206,181.3 1208,182 1210,182.3 1212,182.9 1214,184.5 1216,184.8 1218,186.3 1220,188.4 1222,191.3 1224,197.6 1226,204.3 1228,206.9 1230,202 1232,197.6 1234,197.8 1236,198.9 1238,199.1 1240,200.2 1242,201.1 1244,202 1246,203.3 1248,203.8 1250,203.9 1252,203.6 1254,203.5 1256,203.6 1258,202.9 1260,202.8 1262,202.9 1264,202.2 1266,202.3 1268,203 1270,204.5 1272,205 1274,205.5 1276,205.8 1278,205.9 1280,206.4 1282,206.5 1284,206.3 1286,206.2 1288,206.3 1290,206.6 1292,206.8 1294,207.2 1296,208.5 1298,209 1300,209.2 1302,208.6 1304,208 1306,207.6 1308,207.5 1310,206.2 1312,206.7 1314,209 1316,211.6 1318,213.2 1320,214.9 1322,216.7 1324,217.5 1326,218.2 1328,218.4 1330,218.4 1332,218.6 1334,219.4 1336,219.7 1338,220.8 1340,224 1342,226.7 1344,228.1 1346,230 1348,231.9 1350,233.1 1352,233 1354,233 1356,231.3 1358,229.3 1360,229.9 1362,229 1364,227.1 1366,228 1368,228.4 1370,228 1372,228.6 1374,228.1 1376,228 1378,231.9 1380,237.6 1382,244.1 1384,245.3 1386,244.5 1388,244.4 1390,245 1392,245.2 1394,245.1 1396,244.1 1398,244.1 1400,244.5 1402,245.8 1404,245.5 1406,245.6 1408,246.3 1410,247.1 1412,247.9 1414,248.9 1416,248.1 1418,247.5 1420,245.5 1422,243.8 1424,244.1 1426,244.9 1428,244.7 1430,245 1432,245.6 1434,245.5 1436,244.5 1438,244.6 1440,245 1442,244.7 1444,242.9 1446,242 1448,197 1448,488 854,488" fill="#4385a2"/>
<polygon points="854,141.6 856,141.3 858,139.7 860,139.9 862,140.6 864,141.1 866,142.2 868,140.3 870,138.7 872,138.7 874,137.4 876,140 878,142.9 880,141.1 882,138.9 884,141.6 886,144.5 888,143.8 890,141.9 892,139.7 894,137.9 896,140.6 898,141.7 900,143.8 902,143.3 904,140.6 906,139 908,137.8 910,136.6 912,137.9 914,136.9 916,137.2 918,137.3 920,136.4 922,136.8 924,135.7 926,136.2 928,136.6 930,137.9 932,137.1 934,135.9 936,134.6 938,134.3 940,133.8 942,131.6 944,130.9 946,132.9 948,134.3 950,135.8 952,137.4 954,133.4 956,133.4 958,133.2 960,134.8 962,134.1 964,132.6 966,132.3 968,133.5 970,133.1 972,132.7 974,133.5 976,133.1 978,132.9 980,133.5 982,133.1 984,132.4 986,132.3 988,131.6 990,131.6 992,131.9 994,131.6 996,130.5 998,130.3 1000,131 1002,130.2 1004,131.4 1006,131.6 1008,130.2 1010,130.3 1012,136.3 1014,138.7 1016,139.4 1018,140.8 1020,141.3 1022,140.3 1024,139.6 1026,138.4 1028,137.7 1030,138.8 1032,139.4 1034,139.4 1036,139.5 1038,143.4 1040,149.3 1042,151.6 1044,153.3 1046,154.1 1048,154.6 1050,156 1052,156.1 1054,156 1056,155.6 1058,154.2 1060,153.1 1062,154.5 1064,155.9 1066,157.2 1068,155.7 1070,155 1072,155.3 1074,155.4 1076,156.6 1078,159.1 1080,166.2 1082,165.8 1084,164.6 1086,164.6 1088,165.6 1090,165.5 1092,164.5 1094,164.3 1096,163.6 1098,162.2 1100,162.6 1102,162.4 1104,162.5 1106,161.5 1108,163.2 1110,164.9 1112,164 1114,163.8 1116,163.7 1118,167.5 1120,171.5 1122,175.8 1124,175.9 1126,176.7 1128,176.8 1130,177 1132,177.8 1134,177.4 1136,177 1138,176.4 1140,176.5 1142,177.3 1144,182.1 1146,176.5 1148,176.6 1150,176.6 1152,177.3 1154,177 1156,175.9 1158,174.2 1160,174.8 1162,174.5 1164,174.6 1166,174.7 1168,175.5 1170,176.9 1172,176.7 1174,175.4 1176,177.2 1178,177.9 1180,178 1182,178 1184,178 1186,179.2 1188,180.7 1190,181.1 1192,179.8 1194,179 1196,179.5 1198,181.1 1200,182.8 1202,183.9 1204,185.1 1206,185.7 1208,186 1210,187.6 1212,187.7 1214,187.4 1216,188.3 1218,189.6 1220,192.2 1222,194.4 1224,201 1226,207.9 1228,208.9 1230,206.5 1232,204.2 1234,204.9 1236,205.7 1238,206.5 1240,207.3 1242,208.9 1244,209.6 1246,209.8 1248,211 1250,213.3 1252,213.7 1254,213.2 1256,213.5 1258,215.1 1260,215.3 1262,214.7 1264,216.1 1266,216.4 1268,217.2 1270,218.2 1272,218.5 1274,220.3 1276,221.2 1278,221.1 1280,221 1282,221.4 1284,222.2 1286,223.5 1288,225.4 1290,225 1292,225.2 1294,225.6 1296,226.1 1298,226.4 1300,226.9 1302,227.9 1304,226.9 1306,227.4 1308,228.4 1310,229.1 1312,228.8 1314,228.3 1316,230.4 1318,232.4 1320,234.5 1322,235.1 1324,235.1 1326,236 1328,237 1330,237.7 1332,239.2 1334,239 1336,239.4 1338,241.2 1340,242.8 1342,244.8 1344,246.3 1346,246.6 1348,248.5 1350,251 1352,250.2 1354,249.8 1356,249.1 1358,248.4 1360,247.7 1362,246.5 1364,246.1 1366,245.9 1368,246.7 1370,247.9 1372,247.8 1374,247.2 1376,248.5 1378,252.6 1380,258.5 1382,263.7 1384,264.4 1386,264.7 1388,266 1390,265 1392,265 1394,264.8 1396,264.7 1398,264 1400,263.4 1402,263.4 1404,263 1406,263.2 1408,263 1410,264.2 1412,265.8 1414,266.6 1416,264.8 1418,263.5 1420,262.7 1422,262.1 1424,262.7 1426,262.4 1428,262.5 1430,261.9 1432,262 1434,263.1 1436,263.1 1438,262.6 1440,262.7 1442,261.7 1444,260 1446,258.6 1448,215 1448,488 854,488" fill="#618216"/>
<polygon points="854,141.6 856,141.3 858,139.7 860,139.9 862,140.6 864,141.1 866,142.2 868,140.3 870,138.7 872,138.7 874,137.4 876,140 878,142.9 880,141.1 882,138.9 884,141.6 886,144.5 888,143.8 890,141.9 892,139.7 894,137.9 896,140.6 898,141.7 900,143.8 902,143.3 904,140.6 906,139 908,137.8 910,136.6 912,137.9 914,136.9 916,137.2 918,137.3 920,136.4 922,136.8 924,135.7 926,136.2 928,136.6 930,137.9 932,137.1 934,135.9 936,135.8 938,135.1 940,134.7 942,133.3 944,132.4 946,134.9 948,138.1 950,139.5 952,139.2 954,135.1 956,136 958,135.2 960,135.3 962,135.4 964,135.3 966,135 968,135.1 970,136.1 972,136.3 974,136.3 976,134.8 978,134.3 980,135.6 982,135.8 984,134.3 986,133.7 988,133.4 990,133.5 992,133.4 994,133.5 996,134.3 998,133.3 1000,133.8 1002,134.4 1004,133.8 1006,132.9 1008,133.1 1010,133.5 1012,136.3 1014,138.9 1016,142.3 1018,144.3 1020,144.7 1022,143.6 1024,143 1026,142.2 1028,143.4 1030,144.9 1032,145.8 1034,146.7 1036,148.1 1038,157.1 1040,166.6 1042,173.6 1044,179.6 1046,180.4 1048,181.1 1050,179.8 1052,179.9 1054,180.5 1056,181.4 1058,182.9 1060,184 1062,185.3 1064,187.6 1066,189.3 1068,191.7 1070,193.1 1072,195 1074,195.6 1076,197.5 1078,199.8 1080,201.7 1082,206.9 1084,212.4 1086,219.1 1088,222 1090,222 1092,222.9 1094,223.9 1096,225.9 1098,232.5 1100,239.6 1102,242.2 1104,245.2 1106,245.8 1108,243.2 1110,240.9 1112,239.8 1114,237.9 1116,236.3 1118,235.2 1120,225.4 1122,225.7 1124,225 1126,225.4 1128,226.3 1130,225.6 1132,225.2 1134,225.4 1136,224.4 1138,224.1 1140,222.6 1142,224.7 1144,227.3 1146,227.7 1148,225.3 1150,222.7 1152,222.3 1154,221.7 1156,221.7 1158,220.8 1160,221.6 1162,221.9 1164,221.9 1166,221.6 1168,221.4 1170,223.6 1172,224.6 1174,224.8 1176,225 1178,227 1180,227.5 1182,225.7 1184,226.4 1186,225.7 1188,224.5 1190,224.2 1192,222.8 1194,222.4 1196,222.9 1198,224.2 1200,225.3 1202,226.2 1204,226.3 1206,228 1208,229.3 1210,229.5 1212,229.6 1214,230.6 1216,230.5 1218,231.2 1220,231.7 1222,232.6 1224,238.6 1226,245 1228,247.1 1230,245.9 1232,243.8 1234,243.6 1236,243.5 1238,244.1 1240,245.2 1242,244.5 1244,245.9 1246,247.9 1248,247.4 1250,249.8 1252,250.1 1254,249.2 1256,249 1258,249.7 1260,248.4 1262,248.8 1264,249.6 1266,250.1 1268,250 1270,249.9 1272,249.3 1274,249.5 1276,249.5 1278,250.5 1280,251 1282,251.1 1284,251.5 1286,251.2 1288,251.7 1290,252.2 1292,252.6 1294,253 1296,253 1298,253 1300,251.7 1302,251.3 1304,250.9 1306,251.5 1308,251.2 1310,250.4 1312,250.8 1314,253.2 1316,254.9 1318,257.4 1320,259.3 1322,259.8 1324,260.9 1326,262.2 1328,262.5 1330,262.4 1332,263.4 1334,264.5 1336,264.6 1338,265.9 1340,268.6 1342,269.5 1344,270.6 1346,271.7 1348,273.8 1350,274.3 1352,273.5 1354,272.5 1356,272.5 1358,271.8 1360,271.3 1362,270.9 1364,270.3 1366,270.7 1368,270.3 1370,270.8 1372,272 1374,273 1376,273.7 1378,275.9 1380,280.5 1382,286.4 1384,286.7 1386,286 1388,286.1 1390,286.4 1392,286.5 1394,287.1 1396,287.3 1398,288 1400,287.2 1402,286.7 1404,287.3 1406,286.9 1408,285.9 1410,285.3 1412,285 1414,286.1 1416,284.9 1418,284.4 1420,285.2 1422,286.5 1424,287 1426,286.9 1428,286.9 1430,286.2 1432,286.4 1434,287.1 1436,286.3 1438,285.9 1440,285.6 1442,284.1 1444,284.3 1446,283.7 1448,240 1448,488 854,488" fill="#6d792b"/>
<polyline points="854,141.6 856,141.3 858,139.7 860,139.9 862,140.6 864,141.1 866,142.2 868,140.3 870,138.7 872,138.7 874,137.4 876,140 878,142.9 880,141.1 882,138.9 884,141.6 886,144.5 888,143.8 890,141.9 892,139.7 894,137.9 896,140.6 898,141.7 900,143.8 902,143.3 904,140.6 906,139 908,137.8 910,136.6 912,137.9 914,136.9 916,137.2 918,137.3 920,136.4 922,136.8 924,135.7 926,136.2 928,136.6 930,137.9 932,137.1 934,135.9 936,135.8 938,135.1 940,134.7 942,133.3 944,132.4 946,134.9 948,138.1 950,139.5 952,139.2 954,135.1 956,136 958,135.2 960,135.3 962,135.4 964,135.3 966,135 968,135.1 970,136.1 972,136.3 974,136.3 976,134.8 978,134.3 980,135.6 982,135.8 984,134.3 986,133.7 988,133.4 990,133.5 992,133.4 994,133.5 996,134.3 998,133.3 1000,133.8 1002,134.4 1004,133.8 1006,132.9 1008,133.1 1010,133.5 1012,136.3 1014,138.9 1016,142.3 1018,144.3 1020,144.7 1022,143.6 1024,143 1026,142.2 1028,143.4 1030,144.9 1032,145.8 1034,146.7 1036,148.1 1038,157.1 1040,166.6 1042,173.6 1044,179.6 1046,180.4 1048,181.1 1050,179.8 1052,179.9 1054,180.5 1056,181.4 1058,182.9 1060,184 1062,185.3 1064,187.6 1066,189.3 1068,191.7 1070,193.1 1072,195 1074,195.6 1076,197.5 1078,199.8 1080,201.7 1082,206.9 1084,212.4 1086,219.1 1088,222 1090,222 1092,222.9 1094,223.9 1096,225.9 1098,232.5 1100,239.6 1102,242.2 1104,245.2 1106,245.8 1108,243.2 1110,240.9 1112,239.8 1114,237.9 1116,236.3 1118,235.2 1120,225.4 1122,225.7 1124,225 1126,225.4 1128,226.3 1130,225.6 1132,225.2 1134,225.4 1136,224.4 1138,224.1 1140,222.6 1142,224.7 1144,227.3 1146,227.7 1148,225.3 1150,222.7 1152,222.3 1154,221.7 1156,221.7 1158,220.8 1160,221.6 1162,221.9 1164,221.9 1166,221.6 1168,221.4 1170,223.6 1172,224.6 1174,224.8 1176,225 1178,227 1180,227.5 1182,225.7 1184,226.4 1186,225.7 1188,224.5 1190,224.2 1192,222.8 1194,222.4 1196,222.9 1198,224.2 1200,225.3 1202,226.2 1204,226.3 1206,228 1208,229.3 1210,229.5 1212,229.6 1214,230.6 1216,230.5 1218,231.2 1220,231.7 1222,232.6 1224,238.6 1226,245 1228,247.1 1230,245.9 1232,243.8 1234,243.6 1236,243.5 1238,244.1 1240,245.2 1242,244.5 1244,245.9 1246,247.9 1248,247.4 1250,249.8 1252,250.1 1254,249.2 1256,249 1258,249.7 1260,248.4 1262,248.8 1264,249.6 1266,250.1 1268,250 1270,249.9 1272,249.3 1274,249.5 1276,249.5 1278,250.5 1280,251 1282,251.1 1284,251.5 1286,251.2 1288,251.7 1290,252.2 1292,252.6 1294,253 1296,253 1298,253 1300,251.7 1302,251.3 1304,250.9 1306,251.5 1308,251.2 1310,250.4 1312,250.8 1314,253.2 1316,254.9 1318,257.4 1320,259.3 1322,259.8 1324,260.9 1326,262.2 1328,262.5 1330,262.4 1332,263.4 1334,264.5 1336,264.6 1338,265.9 1340,268.6 1342,269.5 1344,270.6 1346,271.7 1348,273.8 1350,274.3 1352,273.5 1354,272.5 1356,272.5 1358,271.8 1360,271.3 1362,270.9 1364,270.3 1366,270.7 1368,270.3 1370,270.8 1372,272 1374,273 1376,273.7 1378,275.9 1380,280.5 1382,286.4 1384,286.7 1386,286 1388,286.1 1390,286.4 1392,286.5 1394,287.1 1396,287.3 1398,288 1400,287.2 1402,286.7 1404,287.3 1406,286.9 1408,285.9 1410,285.3 1412,285 1414,286.1 1416,284.9 1418,284.4 1420,285.2 1422,286.5 1424,287 1426,286.9 1428,286.9 1430,286.2 1432,286.4 1434,287.1 1436,286.3 1438,285.9 1440,285.6 1442,284.1 1444,284.3 1446,283.7 1448,240" fill="none" stroke="#a1b52f" stroke-width="1"/>
<polyline points="936,134.6 938,134.3 940,133.8 942,131.6 944,130.9 946,132.9 948,134.3 950,135.8 952,137.4 954,133.4 956,133.4 958,133.2 960,134.8 962,134.1 964,132.6 966,132.3 968,133.5 970,133.1 972,132.7 974,133.5 976,133.1 978,132.9 980,133.5 982,133.1 984,132.4 986,132.3 988,131.6 990,131.6 992,131.9 994,131.6 996,130.5 998,130.3 1000,131 1002,130.2 1004,131.4 1006,131.6 1008,130.2 1010,130.3 1012,136.3 1014,138.7 1016,139.4 1018,140.8 1020,141.3 1022,140.3 1024,139.6 1026,138.4 1028,137.7 1030,138.8 1032,139.4 1034,139.4 1036,139.5 1038,143.4 1040,149.3 1042,151.6 1044,153.3 1046,154.1 1048,154.6 1050,156 1052,156.1 1054,156 1056,155.6 1058,154.2 1060,153.1 1062,154.5 1064,155.9 1066,157.2 1068,155.7 1070,155 1072,155.3 1074,155.4 1076,156.6 1078,159.1 1080,166.2 1082,165.8 1084,164.6 1086,164.6 1088,165.6 1090,165.5 1092,164.5 1094,164.3 1096,163.6 1098,162.2 1100,162.6 1102,162.4 1104,162.5 1106,161.5 1108,163.2 1110,164.9 1112,164 1114,163.8 1116,163.7 1118,167.5 1120,171.5 1122,175.8 1124,175.9 1126,176.7 1128,176.8 1130,177 1132,177.8 1134,177.4 1136,177 1138,176.4 1140,176.5 1142,177.3 1144,182.1 1146,176.5 1148,176.6 1150,176.6 1152,177.3 1154,177 1156,175.9 1158,174.2 1160,174.8 1162,174.5 1164,174.6 1166,174.7 1168,175.5 1170,176.9 1172,176.7 1174,175.4 1176,177.2 1178,177.9 1180,178 1182,178 1184,178 1186,179.2 1188,180.7 1190,181.1 1192,179.8 1194,179 1196,179.5 1198,181.1 1200,182.8 1202,183.9 1204,185.1 1206,185.7 1208,186 1210,187.6 1212,187.7 1214,187.4 1216,188.3 1218,189.6 1220,192.2 1222,194.4 1224,201 1226,207.9 1228,208.9 1230,206.5 1232,204.2 1234,204.9 1236,205.7 1238,206.5 1240,207.3 1242,208.9 1244,209.6 1246,209.8 1248,211 1250,213.3 1252,213.7 1254,213.2 1256,213.5 1258,215.1 1260,215.3 1262,214.7 1264,216.1 1266,216.4 1268,217.2 1270,218.2 1272,218.5 1274,220.3 1276,221.2 1278,221.1 1280,221 1282,221.4 1284,222.2 1286,223.5 1288,225.4 1290,225 1292,225.2 1294,225.6 1296,226.1 1298,226.4 1300,226.9 1302,227.9 1304,226.9 1306,227.4 1308,228.4 1310,229.1 1312,228.8 1314,228.3 1316,230.4 1318,232.4 1320,234.5 1322,235.1 1324,235.1 1326,236 1328,237 1330,237.7 1332,239.2 1334,239 1336,239.4 1338,241.2 1340,242.8 1342,244.8 1344,246.3 1346,246.6 1348,248.5 1350,251 1352,250.2 1354,249.8 1356,249.1 1358,248.4 1360,247.7 1362,246.5 1364,246.1 1366,245.9 1368,246.7 1370,247.9 1372,247.8 1374,247.2 1376,248.5 1378,252.6 1380,258.5 1382,263.7 1384,264.4 1386,264.7 1388,266 1390,265 1392,265 1394,264.8 1396,264.7 1398,264 1400,263.4 1402,263.4 1404,263 1406,263.2 1408,263 1410,264.2 1412,265.8 1414,266.6 1416,264.8 1418,263.5 1420,262.7 1422,262.1 1424,262.7 1426,262.4 1428,262.5 1430,261.9 1432,262 1434,263.1 1436,263.1 1438,262.6 1440,262.7 1442,261.7 1444,260 1446,258.6 1448,215" fill="none" stroke="#8dc40c" stroke-width="1"/>
<polyline points="1036,138.4 1038,143.4 1040,148.4 1042,149.9 1044,152.4 1046,153.7 1048,154.2 1050,153.9 1052,154.6 1054,154 1056,153.3 1058,152.1 1060,152 1062,153.2 1064,155.5 1066,156.4 1068,155 1070,153.7 1072,154.2 1074,154.6 1076,155.4 1078,158.5 1080,164.6 1082,164.7 1084,163.7 1086,164.1 1088,165.4 1090,165.2 1092,164.2 1094,163.6 1096,162.3 1098,161.8 1100,162.4 1102,162 1104,160.3 1106,160.3 1108,161.7 1110,164.6 1112,163.6 1114,162.1 1116,163.1 1118,167.3 1120,170.1 1122,173.3 1124,173.5 1126,174.3 1128,175.8 1130,176 1132,176.9 1134,176.2 1136,175.3 1138,175.5 1140,175.7 1142,175.3 1144,179.7 1146,175 1148,175.5 1150,174.4 1152,174.3 1154,175.1 1156,175.6 1158,174.2 1160,173.6 1162,173.7 1164,174.6 1166,174 1168,174 1170,174.1 1172,175.2 1174,175.4 1176,175.8 1178,176.1 1180,177.1 1182,177.9 1184,177.6 1186,178.5 1188,178.8 1190,178.9 1192,178.1 1194,178.5 1196,178.7 1198,179.4 1200,180.5 1202,182.3 1204,183.6 1206,181.3 1208,182 1210,182.3 1212,182.9 1214,184.5 1216,184.8 1218,186.3 1220,188.4 1222,191.3 1224,197.6 1226,204.3 1228,206.9 1230,202 1232,197.6 1234,197.8 1236,198.9 1238,199.1 1240,200.2 1242,201.1 1244,202 1246,203.3 1248,203.8 1250,203.9 1252,203.6 1254,203.5 1256,203.6 1258,202.9 1260,202.8 1262,202.9 1264,202.2 1266,202.3 1268,203 1270,204.5 1272,205 1274,205.5 1276,205.8 1278,205.9 1280,206.4 1282,206.5 1284,206.3 1286,206.2 1288,206.3 1290,206.6 1292,206.8 1294,207.2 1296,208.5 1298,209 1300,209.2 1302,208.6 1304,208 1306,207.6 1308,207.5 1310,206.2 1312,206.7 1314,209 1316,211.6 1318,213.2 1320,214.9 1322,216.7 1324,217.5 1326,218.2 1328,218.4 1330,218.4 1332,218.6 1334,219.4 1336,219.7 1338,220.8 1340,224 1342,226.7 1344,228.1 1346,230 1348,231.9 1350,233.1 1352,233 1354,233 1356,231.3 1358,229.3 1360,229.9 1362,229 1364,227.1 1366,228 1368,228.4 1370,228 1372,228.6 1374,228.1 1376,228 1378,231.9 1380,237.6 1382,244.1 1384,245.3 1386,244.5 1388,244.4 1390,245 1392,245.2 1394,245.1 1396,244.1 1398,244.1 1400,244.5 1402,245.8 1404,245.5 1406,245.6 1408,246.3 1410,247.1 1412,247.9 1414,248.9 1416,248.1 1418,247.5 1420,245.5 1422,243.8 1424,244.1 1426,244.9 1428,244.7 1430,245 1432,245.6 1434,245.5 1436,244.5 1438,244.6 1440,245 1442,244.7 1444,242.9 1446,242 1448,197" fill="none" stroke="#5bc9f5" stroke-width="1"/>
<polyline points="1040,147.6 1042,149.9 1044,151.6 1046,151.4 1048,152.5 1050,153.2 1052,154.5 1054,153.5 1056,151.7 1058,151.4 1060,150.6 1062,151.6 1064,153.5 1066,154.3 1068,154.2 1070,153.7 1072,154.2 1074,154.6 1076,155.4 1078,157.9 1080,161.4 1082,161.5 1084,161.6 1086,160.8 1088,161 1090,161.2 1092,160.8 1094,160.2 1096,160.7 1098,161.2 1100,160.6 1102,159.7 1104,160.3 1106,160.1 1108,159 1110,159.2 1112,159.8 1114,159.5 1116,160.8 1118,165.2 1120,169.1 1122,172.3 1124,173 1126,174 1128,174.8 1130,174.9 1132,174.3 1134,174.6 1136,175.3 1138,174.3 1140,173.7 1142,173.4 1144,179.7 1146,174.1 1148,173.9 1150,174.2 1152,174.3 1154,174.5 1156,173.4 1158,173.3 1160,172.8 1162,171.7 1164,171.5 1166,171.8 1168,172.3 1170,173.2 1172,173.1 1174,174.3 1176,174.1 1178,173.7 1180,174.4 1182,174.2 1184,174.4 1186,175.1 1188,175.6 1190,176.4 1192,175.2 1194,173.6 1196,174 1198,175.8 1200,176.3 1202,176.7 1204,178.9 1206,177.7 1208,177 1210,174.9 1212,174.4 1214,175.3 1216,175.6 1218,174.5 1220,174.2 1222,175.2 1224,176.1 1226,179.1 1228,179.6 1230,178.6 1232,178.2 1234,178.6 1236,179.3 1238,179.8 1240,179.6 1242,179.7 1244,181.5 1246,183.2 1248,184.1 1250,185 1252,185.5 1254,185 1256,184.6 1258,183.5 1260,181.8 1262,181.5 1264,181.8 1266,182.5 1268,182.2 1270,181.6 1272,182.5 1274,182.8 1276,184.7 1278,184.5 1280,184.5 1282,184.8 1284,185.2 1286,184.8 1288,185.4 1290,185.2 1292,185.5 1294,185.9 1296,185.8 1298,186.1 1300,187.3 1302,187.5 1304,187.6 1306,188.5 1308,188.3 1310,187.9 1312,188.8 1314,190.2 1316,192 1318,194.1 1320,195.4 1322,197.5 1324,199.2 1326,200.1 1328,201.1 1330,201.9 1332,201.3 1334,201.8 1336,202.1 1338,205 1340,207.5 1342,209.3 1344,210.6 1346,213.4 1348,217.3 1350,221.7 1352,219.3 1354,216.1 1356,215.2 1358,214.6 1360,213.7 1362,213 1364,213.2 1366,213.3 1368,213.3 1370,213.1 1372,213.7 1374,214.7 1376,214.9 1378,216.9 1380,223.7 1382,226.2 1384,227.3 1386,228.4 1388,230.3 1390,230.2 1392,230.3 1394,230.6 1396,231.3 1398,231.6 1400,231.7 1402,231.9 1404,232.3 1406,232.4 1408,233.1 1410,232.3 1412,233.9 1414,234.7 1416,234.5 1418,233.7 1420,233.8 1422,232.5 1424,233.7 1426,233.1 1428,233.2 1430,234 1432,234.8 1434,233.5 1436,233.1 1438,234.7 1440,234 1442,232.8 1444,232.5 1446,231.4 1448,186" fill="none" stroke="#2210f0" stroke-width="1"/>
<polyline points="854,138.1 856,137.8 858,137.5 860,137 862,138.4 864,139.1 866,140.6 868,139.8 870,137.4 872,135.7 874,135.5 876,139.1 878,142.4 880,139.7 882,137 884,137.8 886,139 888,138 890,136.2 892,133.9 894,132.5 896,131.2 898,131 900,132.4 902,132 904,131.2 906,129.8 908,129.9 910,130.3 912,130.6 914,130.2 916,129.2 918,129 920,129.5 922,129.1 924,129.1 926,128.9 928,129 930,128.8 932,128.3 934,127.9 936,128.2 938,128.3 940,129.7 942,130.3 944,129.2 946,129.3 948,130.5 950,130.4 952,130.3 954,129.9 956,129.9 958,129.6 960,130 962,130.7 964,129.8 966,129.8 968,130.5 970,131.5 972,130.7 974,130 976,130.1 978,130.3 980,129.7 982,129 984,129.7 986,128.9 988,128.6 990,128.9 992,129.5 994,129.4 996,128.6 998,128.4 1000,128.1 1002,128.8 1004,128.3 1006,127.6 1008,128.7 1010,129.4 1012,131.5 1014,135.4 1016,137.3 1018,138.2 1020,139.6 1022,139.4 1024,138.5 1026,137.5 1028,137.7 1030,138.3 1032,138.7 1034,138.5 1036,138.1 1038,139.4 1040,141.1 1042,143.4 1044,144.5 1046,145.7 1048,145.2 1050,143.7 1052,143.7 1054,142.4 1056,142.3 1058,142.6 1060,141.5 1062,143.2 1064,143.8 1066,143.8 1068,144.6 1070,145.1 1072,143 1074,142.4 1076,142.4 1078,141.2 1080,143.9 1082,147.9 1084,148.2 1086,148.4 1088,148.6 1090,148.1 1092,148.4 1094,149 1096,149.4 1098,149.8 1100,149.5 1102,149.6 1104,150.1 1106,151 1108,150 1110,150.5 1112,150.3 1114,151 1116,150.5 1118,153.8 1120,157.9 1122,161.5 1124,163.3 1126,162.9 1128,163.3 1130,165 1132,166.8 1134,167 1136,165.6 1138,164.1 1140,166.2 1142,167.9 1144,174.8 1146,167.1 1148,166.5 1150,167.9 1152,169.8 1154,168.9 1156,168.2 1158,167.8 1160,167.5 1162,166.7 1164,165.6 1166,166 1168,166.9 1170,168.1 1172,167.3 1174,167.3 1176,168.2 1178,168.7 1180,169.3 1182,168.9 1184,168 1186,168 1188,168 1190,167.8 1192,167.5 1194,166.7 1196,165.7 1198,166.1 1200,167.9 1202,169.5 1204,169.6 1206,169.6 1208,168.4 1210,166.9 1212,166.5 1214,166.9 1216,166.6 1218,167.1 1220,167.1 1222,167 1224,169 1226,171.5 1228,172 1230,171.4 1232,169.8 1234,170.3 1236,171.9 1238,172.7 1240,172.7 1242,172.1 1244,173.6 1246,174.1 1248,174.6 1250,174.6 1252,178 1254,178.1 1256,177.5 1258,177.5 1260,175.7 1262,174.9 1264,173.2 1266,173.8 1268,174.8 1270,175.6 1272,175.8 1274,175.4 1276,175.1 1278,175.9 1280,175.4 1282,176.5 1284,176.2 1286,175.6 1288,175 1290,174.8 1292,176.6 1294,176.3 1296,176.8 1298,176.7 1300,177.4 1302,177.5 1304,178.3 1306,178.7 1308,179.4 1310,180 1312,179.8 1314,181.6 1316,184.3 1318,186.8 1320,188.2 1322,190.2 1324,189.6 1326,191.1 1328,192.2 1330,193.4 1332,195.5 1334,194.9 1336,193.6 1338,195.8 1340,198.6 1342,201.2 1344,202.6 1346,203.6 1348,207 1350,212.9 1352,209.6 1354,207.5 1356,206.2 1358,205.6 1360,204.7 1362,205.5 1364,205.7 1366,205 1368,205.2 1370,205.7 1372,205.8 1374,205.7 1376,205.7 1378,209.8 1380,217.3 1382,220 1384,221.5 1386,222.1 1388,223.1 1390,223.9 1392,224 1394,224.1 1396,223.8 1398,224.6 1400,225.4 1402,224.4 1404,224.8 1406,225.5 1408,226.9 1410,227.9 1412,228.7 1414,228.4 1416,227.4 1418,227.8 1420,227.1 1422,225.8 1424,225.7 1426,226.3 1428,226.5 1430,225.5 1432,225.1 1434,225.8 1436,225.6 1438,225.6 1440,226.6 1442,224.4 1444,222.9 1446,220.8 1448,178" fill="none" stroke="#f27a10" stroke-width="1"/>
<polyline points="1012,130.7 1014,133.8 1016,135.4 1018,138.2 1020,138.2 1022,138 1024,137.1 1026,136 1028,136.7 1030,136.7 1032,136.4 1034,136.1 1036,135.2 1038,137.3 1040,140.3 1042,143.4 1044,144.5 1046,144.2 1048,143.6 1050,143.4 1052,143.4 1054,142 1056,140.8 1058,140.8 1060,139.7 1062,139.6 1064,138.7 1066,139.8 1068,140.1 1070,138.8 1072,139.1 1074,138.3 1076,137.6 1078,137.1 1080,137 1082,136.7 1084,136.2 1086,137.1 1088,137.9 1090,136.7 1092,136.3 1094,136 1096,136.1 1098,136.9 1100,137.4 1102,137.9 1104,137 1106,137.2 1108,138.9 1110,140.5 1112,141.5 1114,140.7 1116,140.4 1118,143.1 1120,146.1 1122,149.3 1124,150.2 1126,151.5 1128,153.3 1130,153.9 1132,154.6 1134,156.1 1136,157.3 1138,156.4 1140,156.6 1142,156.7 1144,163 1146,157.7 1148,156.3 1150,156.3 1152,157 1154,157 1156,156 1158,156.5 1160,155.6 1162,155.1 1164,155.6 1166,154.4 1168,154.1 1170,154.2 1172,154.4 1174,154.5 1176,154.2 1178,154.8 1180,153.7 1182,153 1184,153 1186,152.7 1188,151.4 1190,151.5 1192,152.3 1194,152.7 1196,152.2 1198,151.8 1200,151 1202,150.3 1204,150.5 1206,150.3 1208,151.1 1210,150.4 1212,150.3 1214,150.8 1216,151.6 1218,152.4 1220,153 1222,153.2 1224,154.1 1226,155.8 1228,156 1230,155.2 1232,154.5 1234,154.4 1236,154.1 1238,154.4 1240,154.4 1242,155.4 1244,156.2 1246,156 1248,156 1250,156.7 1252,159.6 1254,159.8 1256,159.7 1258,159.5 1260,159.4 1262,159 1264,159.6 1266,158.7 1268,157.9 1270,158.3 1272,158.1 1274,158.6 1276,158.3 1278,159.1 1280,158.7 1282,157.6 1284,158.8 1286,160.1 1288,160.5 1290,161.2 1292,160.7 1294,160.5 1296,160.8 1298,160.2 1300,160.2 1302,160.1 1304,159.8 1306,158.8 1308,158.5 1310,158.9 1312,160 1314,158.3 1316,158.9 1318,159.6 1320,160.8 1322,162.1 1324,163.4 1326,164.1 1328,164.9 1330,165.5 1332,167 1334,168.2 1336,169 1338,169.9 1340,170.9 1342,173.5 1344,175 1346,175.8 1348,176 1350,180.2 1352,180.9 1354,178.9 1356,178.5 1358,178.8 1360,178.6 1362,177.9 1364,177.5 1366,177.3 1368,177 1370,176.8 1372,175.8 1374,175.8 1376,176.3 1378,174.7 1380,178.4 1382,181.4 1384,183.8 1386,181.2 1388,178.9 1390,177.1 1392,177.6 1394,179.1 1396,179.7 1398,179.5 1400,179.5 1402,179.5 1404,180.5 1406,180.9 1408,181.1 1410,182 1412,181.8 1414,180.6 1416,179 1418,178 1420,177.6 1422,177.2 1424,176.3 1426,175.3 1428,175.1 1430,174.5 1432,173.9 1434,174.7 1436,173.8 1438,172.9 1440,172.6 1442,174.1 1444,175.2 1446,175.9 1448,177" fill="none" stroke="#bdf913" stroke-width="1"/>
<polyline points="1012,128.3 1014,133 1016,135 1018,136.3 1020,138.2 1022,136.8 1024,134.8 1026,133.8 1028,134.4 1030,134.7 1032,134.6 1034,134.6 1036,135.2 1038,137.3 1040,138.4 1042,140.3 1044,142 1046,143.2 1048,143 1050,141.9 1052,140.5 1054,139.6 1056,140.1 1058,139.1 1060,137.9 1062,138.3 1064,138.5 1066,138.4 1068,138.1 1070,137.7 1072,136.9 1074,137 1076,135.6 1078,135.4 1080,134.9 1082,135.2 1084,134.9 1086,134.8 1088,133.8 1090,133.6 1092,134.1 1094,133.8 1096,133.6 1098,134 1100,134.2" fill="none" stroke="#1a9a90" stroke-width="1.3"/>
<polyline points="1100,134.2 1102,134.8 1104,134.6 1106,135.2 1108,135.6 1110,134.3 1112,134.2 1114,133.9 1116,133.4 1118,133.5 1120,134.2 1122,133.2 1124,131.9 1126,133.2 1128,133 1130,133.3 1132,133.8 1134,133.4 1136,133.8 1138,133.2 1140,133.6 1142,133.9 1144,133.4 1146,133.5 1148,133.2 1150,133.8 1152,134.7 1154,134.2 1156,133.4 1158,134.5 1160,135.6 1162,134 1164,134.6 1166,136.4 1168,135.9 1170,136.4 1172,137 1174,136.8 1176,136.6 1178,137 1180,136.2 1182,136.2 1184,136.3 1186,136.3 1188,136.7 1190,136.3 1192,136 1194,136.3 1196,136.1 1198,136.3 1200,136.9 1202,137.4 1204,137.4 1206,138 1208,137.9 1210,137 1212,136.8 1214,137.1 1216,137.9 1218,139.2 1220,139.7 1222,139.9 1224,142 1226,144 1228,146.7 1230,144.9 1232,143.8 1234,142.6 1236,142.8 1238,143.2 1240,143.7 1242,144.1 1244,144.6 1246,145.9 1248,148.8 1250,151.8 1252,152.6 1254,152.8 1256,151.8 1258,150.5 1260,150.4 1262,149.7 1264,149.7 1266,150.9 1268,151.8 1270,153.4 1272,153.9 1274,153.6 1276,154 1278,154.7 1280,155.6 1282,156.2 1284,156.5 1286,157.6 1288,158.2 1290,159.6 1292,160.5 1294,159.5 1296,157.7 1298,156.4 1300,156 1302,155.8 1304,154.6 1306,154.2 1308,154 1310,153.6 1312,154.1 1314,153.5 1316,152 1318,151.5 1320,151.9 1322,153.4 1324,153.7 1326,154.1 1328,155.5 1330,157.2 1332,156.6 1334,157.9 1336,160.1 1338,161.9 1340,163.6 1342,164.9 1344,166.5 1346,168.9 1348,169.9 1350,171.1 1352,172.5 1354,171.7 1356,171.5 1358,170.1 1360,170.2 1362,170.2 1364,170.4 1366,170.3 1368,169.3 1370,169.6 1372,169.2 1374,169.6 1376,168.9 1378,168.8 1380,172.3 1382,174.3 1384,176.2 1386,173.8 1388,172.9 1390,172.1 1392,172.2 1394,172 1396,171.4 1398,171.1 1400,172.5 1402,172.7 1404,173.5 1406,174.5 1408,175 1410,174.4 1412,174.6 1414,173.4 1416,172.5 1418,171.2 1420,170.1 1422,169.9 1424,170.2 1426,170.2 1428,169.6 1430,168.8 1432,167.4 1434,167.8 1436,167.5 1438,166.7 1440,165.3 1442,165.5 1444,166.3 1446,168 1448,168.5" fill="none" stroke="#005673" stroke-width="1"/>
<polyline points="1164,134.3 1166,133.6 1168,132.9 1170,134.8 1172,134.5 1174,134.2 1176,134 1178,134.6 1180,134.4 1182,134 1184,135.1 1186,135.2 1188,135.8 1190,135.3 1192,135.1 1194,135.5 1196,135.7 1198,135.7 1200,135.7 1202,135 1204,135.1 1206,135.3 1208,135.2 1210,135.9 1212,136 1214,135.3 1216,136.1 1218,137.2 1220,137.2 1222,137.6 1224,137.5 1226,138.2 1228,139.4 1230,140.4 1232,139.5 1234,139.4 1236,140.9 1238,141.4 1240,141.1 1242,140.7 1244,142.2 1246,142.8 1248,141.9 1250,142.6 1252,142.1 1254,142.1 1256,142.9 1258,143.7 1260,143.2 1262,142.4 1264,142.5 1266,142 1268,142.2 1270,143.8 1272,144.3 1274,143.8 1276,143.3 1278,144.2 1280,144.2 1282,144.1 1284,144.6 1286,145.1 1288,146.3 1290,146.9 1292,146 1294,146.3 1296,147.1 1298,146.1 1300,145.3 1302,145.8 1304,145.9 1306,146.2 1308,146.7 1310,146.7 1312,146.2 1314,146 1316,146 1318,147 1320,147.1 1322,146.5 1324,147.3 1326,148.7 1328,148 1330,147.2 1332,147.6 1334,149 1336,149.6 1338,149.2 1340,149.7 1342,150.3 1344,151.5 1346,151.5 1348,150.9 1350,151.7 1352,151.8 1354,151.7 1356,152.3 1358,153.3 1360,153.4 1362,154.1 1364,154.3 1366,153.9 1368,154.3 1370,154.2 1372,154.7 1374,155.1 1376,154.7 1378,155.3 1380,157.1 1382,156.7 1384,156.3 1386,157 1388,158.8 1390,159.9 1392,160.5 1394,160.5 1396,160.3 1398,160.6 1400,160.3 1402,161.7 1404,162 1406,161.7 1408,162.3 1410,162.8 1412,163.4 1414,163.1 1416,162.2 1418,162.4 1420,160.9 1422,160.9 1424,160.7 1426,160.7 1428,160.8 1430,161.2 1432,161.6 1434,162.3 1436,161.3 1438,161.2 1440,161.7 1442,161.6 1444,161.1 1446,161.4 1448,161.5" fill="none" stroke="#7e0628" stroke-width="1"/>
<polyline points="1240,140.7 1242,140.7 1244,140.9 1246,140.9 1248,140.4 1250,140 1252,141.3 1254,140.9 1256,140.4 1258,141 1260,141 1262,141.7 1264,142.5 1266,142 1268,142.2 1270,142.3 1272,142.2 1274,142.3 1276,142.4 1278,144.2 1280,143.7 1282,143.9 1284,143.7 1286,143.6 1288,144 1290,144 1292,144.5 1294,144.7 1296,144.8 1298,145.6 1300,144.9 1302,145.6 1304,144.8 1306,145.1 1308,145.9 1310,145.9 1312,145.8 1314,145.9 1316,146 1318,146.4 1320,146.3 1322,146.5 1324,146.9 1326,146.1 1328,146.6 1330,146.6 1332,146.5 1334,146.7 1336,147.4 1338,147.6 1340,147.2 1342,147.2 1344,148.4 1346,148.3 1348,147.9 1350,147.5 1352,148.5 1354,149.9 1356,149.6 1358,148.8 1360,148.9 1362,149.8 1364,149.8 1366,150.1 1368,149.4 1370,149.9 1372,150 1374,150.2 1376,150.1 1378,150.8 1380,150.3 1382,150.7 1384,151.6 1386,151.2 1388,150.9 1390,152.2 1392,152.7 1394,153.6 1396,154.2 1398,153.5 1400,153.8 1402,153.4 1404,154.2 1406,155.1 1408,155.7 1410,156.3 1412,157.1 1414,156.9 1416,156.4 1418,155.7 1420,155.4 1422,154.8 1424,155.1 1426,154.6 1428,153.5 1430,152.9 1432,155.1 1434,156 1436,154.6 1438,154.6 1440,155.3 1442,155.6 1444,155.2 1446,155.1 1448,155.2" fill="none" stroke="#e8925c" stroke-width="1"/>
<polyline points="1240,137.7 1242,138.5 1244,138.3 1246,138.4 1248,137.9 1250,138 1252,139.1 1254,138.2 1256,138 1258,137.9 1260,137.2 1262,139 1264,139.7 1266,139.2 1268,139.4 1270,139.6 1272,140.6 1274,140.4 1276,140.9 1278,141.7 1280,142.1 1282,141.2 1284,140.8 1286,142 1288,141.8 1290,141.3 1292,141.6 1294,142.3 1296,142.6 1298,142.6 1300,142.7 1302,143.3 1304,143.3 1306,143.3 1308,143.5 1310,142.9 1312,143 1314,144.1 1316,145.2 1318,144.9 1320,143.1 1322,144 1324,144.2 1326,144.6 1328,144.4 1330,145.3 1332,145.4 1334,144.8 1336,145.7 1338,146.5 1340,145.5 1342,145.4 1344,146.6 1346,145.6 1348,146 1350,145.7 1352,145.7 1354,146.1 1356,146.4 1358,145.7 1360,145.8 1362,146.4 1364,146.2 1366,146.1 1368,147.1 1370,146.9 1372,147.8 1374,148 1376,147.6 1378,147.7 1380,147.5 1382,147.4 1384,147.5 1386,148.5 1388,148.2 1390,148.3 1392,150.3 1394,151 1396,151.1 1398,151.5 1400,151 1402,151.3 1404,152.1 1406,152.1 1408,152.7 1410,154 1412,153.6 1414,152.9 1416,152.7 1418,152.2 1420,152.4 1422,151.8 1424,150 1426,149.9 1428,151.5 1430,151.2 1432,149.6 1434,149.4 1436,149.6 1438,150.2 1440,150.2 1442,150.3 1444,150.4 1446,150.2 1448,150.2" fill="none" stroke="#b0526f" stroke-width="1"/>
<polyline points="1300,140.9 1302,140.7 1304,141 1306,141.4 1308,141.1 1310,141.6 1312,141.8 1314,141.8 1316,142.2 1318,142.8 1320,143.1 1322,142.8 1324,143.1 1326,142.4 1328,142.8 1330,143.3 1332,143.4 1334,143.7 1336,144.1 1338,144.9 1340,145.5 1342,145.1 1344,144.7 1346,145.6 1348,145 1350,144 1352,144.2 1354,145 1356,145.5 1358,144.6 1360,145 1362,145.4 1364,144.8 1366,145 1368,145.4 1370,144.6 1372,143.7 1374,144.8 1376,145.3 1378,145 1380,145.9 1382,145.4 1384,145.5 1386,145 1388,144.3 1390,144.7 1392,144.9 1394,145.9 1396,146.1 1398,145.4 1400,145.1 1402,144.6 1404,145.4 1406,145.5 1408,145.8 1410,146.4 1412,146.5 1414,146 1416,145.8 1418,145.5 1420,146.4 1422,145.8 1424,145.5 1426,146.3 1428,146.3 1430,147 1432,146.7 1434,147 1436,147.4 1438,146.5 1440,146.5 1442,146.8 1444,146.6 1446,147 1448,147" fill="none" stroke="#5d8f7e" stroke-width="1"/>
<polyline points="1012,127 1014,126.5 1016,126.5 1018,126.5 1020,126.5 1022,126.5 1024,126.5 1026,126.5 1028,126.5 1030,126.5 1032,126.5 1034,126.5 1036,126.4 1038,126.4 1040,126.4 1042,126.4 1044,126.4 1046,126.4 1048,126.4 1050,126.4 1052,126.4 1054,126.4 1056,126.4 1058,126.4 1060,126.4 1062,126.4 1064,126.4 1066,126.4 1068,126.4 1070,126.4 1072,126.4 1074,126.4 1076,126.3 1078,126.3 1080,126.3 1082,126.3 1084,126.3 1086,126.3 1088,126.3 1090,126.3 1092,126.3 1094,126.3 1096,126.3 1098,126.3 1100,126.3 1102,126.3 1104,126.3 1106,126.3 1108,126.3 1110,126.3 1112,126.3 1114,126.3 1116,126.2 1118,126.2 1120,126.2 1122,126.2 1124,126.2 1126,126.2 1128,126.2 1130,126.2 1132,126.2 1134,126.2 1136,126.2 1138,126.2 1140,126.2 1142,126.2 1144,126.2 1146,126.2 1148,126.2 1150,126.2 1152,126.2 1154,126.2 1156,126.1 1158,126.1 1160,126.1 1162,126.1 1164,126.1 1166,126.1 1168,126.1 1170,126.1 1172,126.1 1174,126.1 1176,126.1 1178,126.1 1180,126.1 1182,126.1 1184,126.1 1186,126.1 1188,126.1 1190,126.1 1192,126.1 1194,126.1 1196,126 1198,126 1200,126 1202,126 1204,126 1206,126 1208,126 1210,126 1212,126 1214,126 1216,126 1218,126.2 1220,126.3 1222,126.5 1224,126.6 1226,126.8 1228,126.9 1230,127.1 1232,127.3 1234,127.4 1236,127.6 1238,127.7 1240,127.8 1242,127.9 1244,128 1246,128.2 1248,128.3 1250,128.4 1252,128.5 1254,128.6 1256,128.8 1258,128.9 1260,129 1262,129 1264,129.1 1266,129.1 1268,129.2 1270,129.2 1272,129.3 1274,129.3 1276,129.3 1278,129.4 1280,129.4 1282,129.5 1284,129.5 1286,129.6 1288,129.6 1290,129.6 1292,129.7 1294,129.7 1296,129.8 1298,129.8 1300,129.9 1302,129.9 1304,129.9 1306,130 1308,130 1310,130.1 1312,130.1 1314,130.1 1316,130.2 1318,130.2 1320,130.3 1322,130.3 1324,130.4 1326,130.4 1328,130.4 1330,130.5 1332,130.5 1334,130.6 1336,130.6 1338,130.7 1340,130.7 1342,130.7 1344,130.8 1346,130.8 1348,130.9 1350,130.9 1352,131 1354,131 1356,131 1358,131.1 1360,131.1 1362,131.2 1364,131.2 1366,131.3 1368,131.3 1370,131.3 1372,131.4 1374,131.4 1376,131.5 1378,131.5 1380,131.6 1382,131.6 1384,131.6 1386,131.7 1388,131.7 1390,131.8 1392,131.8 1394,131.9 1396,131.9 1398,131.9 1400,132 1402,132 1404,132.1 1406,132.1 1408,132.1 1410,132.2 1412,132.2 1414,132.3 1416,132.3 1418,132.4 1420,132.4 1422,132.4 1424,132.5 1426,132.5 1428,132.6 1430,132.6 1432,132.7 1434,132.7 1436,132.7 1438,132.8 1440,132.8 1442,132.9 1444,132.9 1446,133 1448,133" fill="none" stroke="#30c080" stroke-width="0.8"/>
<polyline points="934,126.7 936,127 938,127.1 940,128.5 942,129.1 944,128 946,128.1 948,129.3 950,129.2 952,129.1 954,128.7 956,128.7 958,128.4 960,128.8 962,129.5 964,128.6 966,128.6 968,129.3 970,130.3 972,129.5 974,128.8 976,128.9 978,129.1 980,128.5 982,127.8 984,128.5 986,127.7 988,127.4 990,127.7 992,128.3 994,128.2 996,127.4 998,127.2 1000,126.9 1002,127.6 1004,127.1 1006,126.4 1008,127.5 1010,128.2 1012,127.1" fill="none" stroke="#1fb0a0" stroke-width="1.3"/></g>
<g fill="#838387" font-size="16" font-family="Liberation Sans, sans-serif"><line x1="853.5" y1="121" x2="853.5" y2="488.5" stroke="#666" stroke-width="1"/>
<line x1="853" y1="488.5" x2="1448.5" y2="488.5" stroke="#666" stroke-width="1"/>
<line x1="847" y1="122" x2="853" y2="122" stroke="#666" stroke-width="1"/>
<text x="845.5" y="127.8" text-anchor="end" letter-spacing="0.9">100%</text>
<line x1="847" y1="213.5" x2="853" y2="213.5" stroke="#666" stroke-width="1"/>
<text x="845.5" y="219.3" text-anchor="end" letter-spacing="0.9">75%</text>
<line x1="847" y1="305" x2="853" y2="305" stroke="#666" stroke-width="1"/>
<text x="845.5" y="310.8" text-anchor="end" letter-spacing="0.9">50%</text>
<line x1="847" y1="396.5" x2="853" y2="396.5" stroke="#666" stroke-width="1"/>
<text x="845.5" y="402.3" text-anchor="end" letter-spacing="0.9">25%</text>
<line x1="847" y1="488" x2="853" y2="488" stroke="#666" stroke-width="1"/>
<text x="845.5" y="493.8" text-anchor="end" letter-spacing="0.9">0%</text>
<line x1="867.5" y1="488.5" x2="867.5" y2="494.5" stroke="#666" stroke-width="1"/>
<text x="868.1" y="509.6" text-anchor="middle" letter-spacing="1.25">Aug 2020</text>
<line x1="952.2" y1="488.5" x2="952.2" y2="494.5" stroke="#666" stroke-width="1"/>
<text x="952.8000000000001" y="509.6" text-anchor="middle" letter-spacing="1.25">Nov 2020</text>
<line x1="1034" y1="488.5" x2="1034" y2="494.5" stroke="#666" stroke-width="1"/>
<text x="1034.6" y="509.6" text-anchor="middle" letter-spacing="1.25">Feb 2021</text>
<line x1="1114.7" y1="488.5" x2="1114.7" y2="494.5" stroke="#666" stroke-width="1"/>
<text x="1115.3" y="509.6" text-anchor="middle" letter-spacing="1.25">May 2021</text>
<line x1="1197.4" y1="488.5" x2="1197.4" y2="494.5" stroke="#666" stroke-width="1"/>
<text x="1198.0" y="509.6" text-anchor="middle" letter-spacing="1.25">Aug 2021</text>
<line x1="1278.8" y1="488.5" x2="1278.8" y2="494.5" stroke="#666" stroke-width="1"/>
<text x="1279.3999999999999" y="509.6" text-anchor="middle" letter-spacing="1.25">Nov 2021</text>
<line x1="1360.2" y1="488.5" x2="1360.2" y2="494.5" stroke="#666" stroke-width="1"/>
<text x="1360.8" y="509.6" text-anchor="middle" letter-spacing="1.25">Feb 2022</text>
<line x1="1448" y1="488.5" x2="1448" y2="494.5" stroke="#666" stroke-width="1"/>
<text x="1445.3999999999999" y="509.6" text-anchor="middle" letter-spacing="1.25">May 2022</text></g>
</svg>
</body></html>
